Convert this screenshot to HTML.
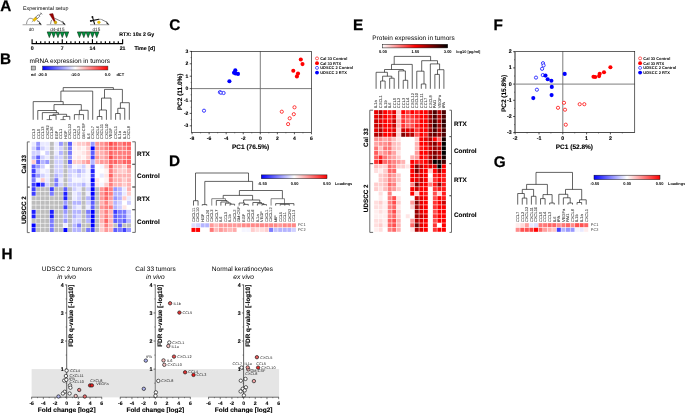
<!DOCTYPE html>
<html lang="en"><head><meta charset="utf-8"><title>Figure</title>
<style>html,body{margin:0;padding:0;background:#fff}body{width:685px;height:413px;overflow:hidden}svg{display:block}text{text-rendering:geometricPrecision;font-family:"Liberation Sans",Arial,sans-serif}</style>
</head><body>
<svg width="685" height="413" viewBox="0 0 685 413">
<defs>
<linearGradient id="gbwr" x1="0" x2="1" y1="0" y2="0"><stop offset="0" stop-color="#0000ff"/><stop offset="0.5" stop-color="#ffffff"/><stop offset="1" stop-color="#ff0000"/></linearGradient>
<linearGradient id="gwrk" x1="0" x2="1" y1="0" y2="0"><stop offset="0" stop-color="#ffffff"/><stop offset="0.5" stop-color="#ff0000"/><stop offset="1" stop-color="#000000"/></linearGradient>
</defs>
<rect width="685" height="413" fill="#fff"/>
<text x="0.30" y="10.70" font-size="15.3" font-weight="bold" stroke="#000" stroke-width="0.25">A</text>
<text x="-0.02" y="64.00" font-size="15.3" font-weight="bold" stroke="#000" stroke-width="0.25">B</text>
<text x="169.28" y="30.15" font-size="15.3" font-weight="bold" stroke="#000" stroke-width="0.25">C</text>
<text x="169.08" y="166.20" font-size="15.3" font-weight="bold" stroke="#000" stroke-width="0.25">D</text>
<text x="353.08" y="30.40" font-size="15.3" font-weight="bold" stroke="#000" stroke-width="0.25">E</text>
<text x="493.48" y="30.40" font-size="15.3" font-weight="bold" stroke="#000" stroke-width="0.25">F</text>
<text x="493.84" y="167.30" font-size="15.3" font-weight="bold" stroke="#000" stroke-width="0.25">G</text>
<text x="1.38" y="258.90" font-size="15.3" font-weight="bold" stroke="#000" stroke-width="0.25">H</text>
<g id="panelA">
<text x="23.00" y="10.42" font-size="5.3">Experimental setup</text>
<line x1="31.60" y1="43.60" x2="123.11" y2="43.60" stroke="#000" stroke-width="1.2" stroke-linecap="butt"/>
<line x1="32.10" y1="39.20" x2="32.10" y2="43.60" stroke="#000" stroke-width="1.15" stroke-linecap="butt"/>
<line x1="36.41" y1="41.20" x2="36.41" y2="43.60" stroke="#000" stroke-width="1.15" stroke-linecap="butt"/>
<line x1="40.72" y1="41.20" x2="40.72" y2="43.60" stroke="#000" stroke-width="1.15" stroke-linecap="butt"/>
<line x1="45.03" y1="41.20" x2="45.03" y2="43.60" stroke="#000" stroke-width="1.15" stroke-linecap="butt"/>
<line x1="49.34" y1="41.20" x2="49.34" y2="43.60" stroke="#000" stroke-width="1.15" stroke-linecap="butt"/>
<line x1="53.65" y1="41.20" x2="53.65" y2="43.60" stroke="#000" stroke-width="1.15" stroke-linecap="butt"/>
<line x1="57.96" y1="41.20" x2="57.96" y2="43.60" stroke="#000" stroke-width="1.15" stroke-linecap="butt"/>
<line x1="62.27" y1="39.20" x2="62.27" y2="43.60" stroke="#000" stroke-width="1.15" stroke-linecap="butt"/>
<line x1="66.58" y1="41.20" x2="66.58" y2="43.60" stroke="#000" stroke-width="1.15" stroke-linecap="butt"/>
<line x1="70.89" y1="41.20" x2="70.89" y2="43.60" stroke="#000" stroke-width="1.15" stroke-linecap="butt"/>
<line x1="75.20" y1="41.20" x2="75.20" y2="43.60" stroke="#000" stroke-width="1.15" stroke-linecap="butt"/>
<line x1="79.51" y1="41.20" x2="79.51" y2="43.60" stroke="#000" stroke-width="1.15" stroke-linecap="butt"/>
<line x1="83.82" y1="41.20" x2="83.82" y2="43.60" stroke="#000" stroke-width="1.15" stroke-linecap="butt"/>
<line x1="88.13" y1="41.20" x2="88.13" y2="43.60" stroke="#000" stroke-width="1.15" stroke-linecap="butt"/>
<line x1="92.44" y1="39.20" x2="92.44" y2="43.60" stroke="#000" stroke-width="1.15" stroke-linecap="butt"/>
<line x1="96.75" y1="41.20" x2="96.75" y2="43.60" stroke="#000" stroke-width="1.15" stroke-linecap="butt"/>
<line x1="101.06" y1="41.20" x2="101.06" y2="43.60" stroke="#000" stroke-width="1.15" stroke-linecap="butt"/>
<line x1="105.37" y1="41.20" x2="105.37" y2="43.60" stroke="#000" stroke-width="1.15" stroke-linecap="butt"/>
<line x1="109.68" y1="41.20" x2="109.68" y2="43.60" stroke="#000" stroke-width="1.15" stroke-linecap="butt"/>
<line x1="113.99" y1="41.20" x2="113.99" y2="43.60" stroke="#000" stroke-width="1.15" stroke-linecap="butt"/>
<line x1="118.30" y1="41.20" x2="118.30" y2="43.60" stroke="#000" stroke-width="1.15" stroke-linecap="butt"/>
<line x1="122.61" y1="39.20" x2="122.61" y2="43.60" stroke="#000" stroke-width="1.15" stroke-linecap="butt"/>
<text x="32.10" y="50.19" font-size="5.2" text-anchor="middle" font-weight="bold" stroke="#000" stroke-width="0.12">0</text>
<text x="62.27" y="50.19" font-size="5.2" text-anchor="middle" font-weight="bold" stroke="#000" stroke-width="0.12">7</text>
<text x="92.44" y="50.19" font-size="5.2" text-anchor="middle" font-weight="bold" stroke="#000" stroke-width="0.12">14</text>
<text x="122.61" y="50.19" font-size="5.2" text-anchor="middle" font-weight="bold" stroke="#000" stroke-width="0.12">21</text>
<text x="134.40" y="50.22" font-size="5.3" font-weight="bold" stroke="#000" stroke-width="0.12">Time [d]</text>
<text x="119.30" y="36.19" font-size="5.2" font-weight="bold" stroke="#000" stroke-width="0.12">RTX: 10x 2 Gy</text>
<polygon points="47.19,31.9 51.49,31.9 49.34,37.6" fill="#009640" stroke="#06260f" stroke-width="0.6" stroke-linejoin="miter"/>
<polygon points="51.50,31.9 55.80,31.9 53.65,37.6" fill="#009640" stroke="#06260f" stroke-width="0.6" stroke-linejoin="miter"/>
<polygon points="55.81,31.9 60.11,31.9 57.96,37.6" fill="#009640" stroke="#06260f" stroke-width="0.6" stroke-linejoin="miter"/>
<polygon points="60.12,31.9 64.42,31.9 62.27,37.6" fill="#009640" stroke="#06260f" stroke-width="0.6" stroke-linejoin="miter"/>
<polygon points="64.43,31.9 68.73,31.9 66.58,37.6" fill="#009640" stroke="#06260f" stroke-width="0.6" stroke-linejoin="miter"/>
<polygon points="77.36,31.9 81.66,31.9 79.51,37.6" fill="#009640" stroke="#06260f" stroke-width="0.6" stroke-linejoin="miter"/>
<polygon points="81.67,31.9 85.97,31.9 83.82,37.6" fill="#009640" stroke="#06260f" stroke-width="0.6" stroke-linejoin="miter"/>
<polygon points="85.98,31.9 90.28,31.9 88.13,37.6" fill="#009640" stroke="#06260f" stroke-width="0.6" stroke-linejoin="miter"/>
<polygon points="90.29,31.9 94.59,31.9 92.44,37.6" fill="#009640" stroke="#06260f" stroke-width="0.6" stroke-linejoin="miter"/>
<polygon points="94.60,31.9 98.90,31.9 96.75,37.6" fill="#009640" stroke="#06260f" stroke-width="0.6" stroke-linejoin="miter"/>
<line x1="22.60" y1="24.70" x2="41.80" y2="24.70" stroke="#b4b4b4" stroke-width="1.2" stroke-linecap="butt"/>
<path d="M26.5 24.1C26.7 22.4 27 21.2 27.5 20.3C28.3 18.9 29.3 18.3 30.2 18.3C31.2 18.3 32 18.5 32.8 18.8" fill="none" stroke="#4a4a4a" stroke-width="0.6"/>
<path d="M36.90 20.40Q39.80 21.50 40.90 24.40" fill="none" stroke="#3a3a3a" stroke-width="0.65"/>
<path d="M37.60 21.40l1.5 0.1l0.6 1.5" fill="none" stroke="#777" stroke-width="0.8"/>
<path d="M39.00 22.80L40.90 24.40" fill="none" stroke="#1a1a1a" stroke-width="1.1"/>
<g transform="translate(35.0 19.15) rotate(-42)"><line x1="-4.4" y1="0" x2="-2" y2="0" stroke="#555" stroke-width="0.45"/><rect x="-2.3" y="-1.2" width="4.4" height="2.4" fill="#f2c000" stroke="#8a7000" stroke-width="0.3"/><rect x="2" y="-1.05" width="3.5" height="2.1" fill="#fff" stroke="#2a2a2a" stroke-width="0.5"/><line x1="5.5" y1="0" x2="8.4" y2="0" stroke="#2a2a2a" stroke-width="0.6"/><line x1="8.4" y1="-1.1" x2="8.4" y2="1.1" stroke="#2a2a2a" stroke-width="0.7"/></g>
<text x="31.30" y="30.88" font-size="4.6" text-anchor="middle" fill="#111">d0</text>
<line x1="46.60" y1="24.70" x2="65.80" y2="24.70" stroke="#b4b4b4" stroke-width="1.2" stroke-linecap="butt"/>
<path d="M50.5 24.1C50.7 22.6 51.1 21.2 51.7 19.9" fill="none" stroke="#4a4a4a" stroke-width="0.6"/>
<path d="M54.70 18.30Q60.70 20.45 64.90 24.40" fill="none" stroke="#3a3a3a" stroke-width="0.65"/>
<path d="M61.60 21.40l1.5 0.1l0.6 1.5" fill="none" stroke="#777" stroke-width="0.8"/>
<path d="M63.00 22.80L64.90 24.40" fill="none" stroke="#1a1a1a" stroke-width="1.1"/>
<polygon points="49.4,14.1 52.9,13.5 55.3,21.4 54.3,22.0" fill="#960000" stroke="#5c0000" stroke-width="0.35" stroke-linejoin="round"/>
<circle cx="55.50" cy="22.50" r="1.4" fill="#d9ac00" stroke="#9a7a00" stroke-width="0.35"/>
<text x="57.30" y="30.88" font-size="4.6" text-anchor="middle" fill="#111">d4-d15</text>
<line x1="90.00" y1="24.70" x2="109.40" y2="24.70" stroke="#b4b4b4" stroke-width="1.2" stroke-linecap="butt"/>
<path d="M98.6 19.2C99.6 19.1 100.6 19.2 101.6 19.5" fill="none" stroke="#555" stroke-width="0.5"/>
<path d="M101.60 19.50Q105.95 21.05 108.50 24.40" fill="none" stroke="#3a3a3a" stroke-width="0.65"/>
<path d="M105.20 21.40l1.5 0.1l0.6 1.5" fill="none" stroke="#777" stroke-width="0.8"/>
<path d="M106.60 22.80L108.50 24.40" fill="none" stroke="#1a1a1a" stroke-width="1.1"/>
<path d="M92.5 17.2L94.5 23.9M91 20.9L98.8 19.3" fill="none" stroke="#111" stroke-width="1.15" stroke-linecap="round"/>
<circle cx="92.40" cy="17.00" r="0.95" fill="#111"/>
<circle cx="90.80" cy="20.90" r="0.95" fill="#111"/>
<circle cx="98.90" cy="22.30" r="1.4" fill="#f5c400" stroke="#c9a200" stroke-width="0.35"/>
<text x="96.40" y="30.68" font-size="4.6" text-anchor="middle" fill="#111">d15</text>
</g>
<g id="panelB">
<text x="29.50" y="62.64" font-size="6.5">mRNA expression in tumors</text>
<rect x="31.20" y="66.10" width="4.20" height="3.90" fill="#bdbdbd" stroke="#333" stroke-width="0.5"/>
<rect x="42.60" y="66.10" width="65.30" height="3.90" fill="url(#gbwr)" stroke="#333" stroke-width="0.5"/>
<text x="33.30" y="75.98" font-size="4.0" text-anchor="middle" font-weight="bold">nd</text>
<text x="42.30" y="75.98" font-size="4.0" text-anchor="middle" font-weight="bold">-20.0</text>
<text x="75.20" y="75.98" font-size="4.0" text-anchor="middle" font-weight="bold">-10.0</text>
<text x="107.60" y="75.98" font-size="4.0" text-anchor="middle" font-weight="bold">0.0</text>
<text x="120.30" y="75.98" font-size="4.0" text-anchor="middle" font-weight="bold">dCT</text>
<rect x="31.65" y="141.86" width="3.99" height="3.99" fill="#e9e9ff"/>
<rect x="36.20" y="141.86" width="3.99" height="3.99" fill="#9898ff"/>
<rect x="40.73" y="141.86" width="3.99" height="3.99" fill="#e9e9ff"/>
<rect x="45.27" y="141.86" width="3.99" height="3.99" fill="#e9e9ff"/>
<rect x="49.82" y="141.86" width="3.99" height="3.99" fill="#bdbdbd"/>
<rect x="54.35" y="141.86" width="3.99" height="3.99" fill="#e9e9ff"/>
<rect x="58.90" y="141.86" width="3.99" height="3.99" fill="#9898ff"/>
<rect x="63.44" y="141.86" width="3.99" height="3.99" fill="#bdbdbd"/>
<rect x="67.97" y="141.86" width="3.99" height="3.99" fill="#5d5dff"/>
<rect x="72.51" y="141.86" width="3.99" height="3.99" fill="#ffe5e5"/>
<rect x="77.05" y="141.86" width="3.99" height="3.99" fill="#ffcbcb"/>
<rect x="81.59" y="141.86" width="3.99" height="3.99" fill="#ffcbcb"/>
<rect x="86.13" y="141.86" width="3.99" height="3.99" fill="#ffb2b2"/>
<rect x="90.67" y="141.86" width="3.99" height="3.99" fill="#9898ff"/>
<rect x="95.22" y="141.86" width="3.99" height="3.99" fill="#ff9898"/>
<rect x="99.75" y="141.86" width="3.99" height="3.99" fill="#ff9898"/>
<rect x="104.29" y="141.86" width="3.99" height="3.99" fill="#ff7e7e"/>
<rect x="108.84" y="141.86" width="3.99" height="3.99" fill="#ff4b4b"/>
<rect x="113.38" y="141.86" width="3.99" height="3.99" fill="#ff6464"/>
<rect x="117.91" y="141.86" width="3.99" height="3.99" fill="#ff7e7e"/>
<rect x="122.45" y="141.86" width="3.99" height="3.99" fill="#ff6464"/>
<rect x="127.00" y="141.86" width="3.99" height="3.99" fill="#ff6464"/>
<rect x="31.65" y="146.39" width="3.99" height="3.99" fill="#d0d0ff"/>
<rect x="36.20" y="146.39" width="3.99" height="3.99" fill="#7b7bff"/>
<rect x="40.73" y="146.39" width="3.99" height="3.99" fill="#d0d0ff"/>
<rect x="45.27" y="146.39" width="3.99" height="3.99" fill="#e9e9ff"/>
<rect x="49.82" y="146.39" width="3.99" height="3.99" fill="#bdbdbd"/>
<rect x="54.35" y="146.39" width="3.99" height="3.99" fill="#e9e9ff"/>
<rect x="58.90" y="146.39" width="3.99" height="3.99" fill="#d0d0ff"/>
<rect x="63.44" y="146.39" width="3.99" height="3.99" fill="#bdbdbd"/>
<rect x="67.97" y="146.39" width="3.99" height="3.99" fill="#7b7bff"/>
<rect x="72.51" y="146.39" width="3.99" height="3.99" fill="#fff2f2"/>
<rect x="77.05" y="146.39" width="3.99" height="3.99" fill="#ffe5e5"/>
<rect x="81.59" y="146.39" width="3.99" height="3.99" fill="#fff2f2"/>
<rect x="86.13" y="146.39" width="3.99" height="3.99" fill="#ffcbcb"/>
<rect x="90.67" y="146.39" width="3.99" height="3.99" fill="#0000ff"/>
<rect x="95.22" y="146.39" width="3.99" height="3.99" fill="#ff9898"/>
<rect x="99.75" y="146.39" width="3.99" height="3.99" fill="#ff9898"/>
<rect x="104.29" y="146.39" width="3.99" height="3.99" fill="#ff7e7e"/>
<rect x="108.84" y="146.39" width="3.99" height="3.99" fill="#ff6464"/>
<rect x="113.38" y="146.39" width="3.99" height="3.99" fill="#ff6464"/>
<rect x="117.91" y="146.39" width="3.99" height="3.99" fill="#ff7e7e"/>
<rect x="122.45" y="146.39" width="3.99" height="3.99" fill="#ff7e7e"/>
<rect x="127.00" y="146.39" width="3.99" height="3.99" fill="#ff6464"/>
<rect x="31.65" y="150.93" width="3.99" height="3.99" fill="#d0d0ff"/>
<rect x="36.20" y="150.93" width="3.99" height="3.99" fill="#d0d0ff"/>
<rect x="45.27" y="150.93" width="3.99" height="3.99" fill="#d0d0ff"/>
<rect x="49.82" y="150.93" width="3.99" height="3.99" fill="#bdbdbd"/>
<rect x="54.35" y="150.93" width="3.99" height="3.99" fill="#e9e9ff"/>
<rect x="58.90" y="150.93" width="3.99" height="3.99" fill="#b4b4ff"/>
<rect x="63.44" y="150.93" width="3.99" height="3.99" fill="#bdbdbd"/>
<rect x="67.97" y="150.93" width="3.99" height="3.99" fill="#7b7bff"/>
<rect x="72.51" y="150.93" width="3.99" height="3.99" fill="#fff2f2"/>
<rect x="77.05" y="150.93" width="3.99" height="3.99" fill="#fff2f2"/>
<rect x="81.59" y="150.93" width="3.99" height="3.99" fill="#ffe5e5"/>
<rect x="86.13" y="150.93" width="3.99" height="3.99" fill="#ffcbcb"/>
<rect x="90.67" y="150.93" width="3.99" height="3.99" fill="#5d5dff"/>
<rect x="95.22" y="150.93" width="3.99" height="3.99" fill="#ffb2b2"/>
<rect x="99.75" y="150.93" width="3.99" height="3.99" fill="#ffb2b2"/>
<rect x="104.29" y="150.93" width="3.99" height="3.99" fill="#ff9898"/>
<rect x="108.84" y="150.93" width="3.99" height="3.99" fill="#ff6464"/>
<rect x="113.38" y="150.93" width="3.99" height="3.99" fill="#ff7e7e"/>
<rect x="117.91" y="150.93" width="3.99" height="3.99" fill="#ff7e7e"/>
<rect x="122.45" y="150.93" width="3.99" height="3.99" fill="#ff7e7e"/>
<rect x="127.00" y="150.93" width="3.99" height="3.99" fill="#ff7e7e"/>
<rect x="31.65" y="155.46" width="3.99" height="3.99" fill="#b4b4ff"/>
<rect x="36.20" y="155.46" width="3.99" height="3.99" fill="#5d5dff"/>
<rect x="40.73" y="155.46" width="3.99" height="3.99" fill="#d0d0ff"/>
<rect x="45.27" y="155.46" width="3.99" height="3.99" fill="#e9e9ff"/>
<rect x="49.82" y="155.46" width="3.99" height="3.99" fill="#bdbdbd"/>
<rect x="54.35" y="155.46" width="3.99" height="3.99" fill="#d0d0ff"/>
<rect x="58.90" y="155.46" width="3.99" height="3.99" fill="#d0d0ff"/>
<rect x="63.44" y="155.46" width="3.99" height="3.99" fill="#bdbdbd"/>
<rect x="67.97" y="155.46" width="3.99" height="3.99" fill="#9898ff"/>
<rect x="72.51" y="155.46" width="3.99" height="3.99" fill="#fff2f2"/>
<rect x="77.05" y="155.46" width="3.99" height="3.99" fill="#ffe5e5"/>
<rect x="81.59" y="155.46" width="3.99" height="3.99" fill="#fff2f2"/>
<rect x="86.13" y="155.46" width="3.99" height="3.99" fill="#ffcbcb"/>
<rect x="90.67" y="155.46" width="3.99" height="3.99" fill="#3f3fff"/>
<rect x="95.22" y="155.46" width="3.99" height="3.99" fill="#ff9898"/>
<rect x="99.75" y="155.46" width="3.99" height="3.99" fill="#ffb2b2"/>
<rect x="104.29" y="155.46" width="3.99" height="3.99" fill="#ff9898"/>
<rect x="108.84" y="155.46" width="3.99" height="3.99" fill="#ff4b4b"/>
<rect x="113.38" y="155.46" width="3.99" height="3.99" fill="#ff7e7e"/>
<rect x="117.91" y="155.46" width="3.99" height="3.99" fill="#ff7e7e"/>
<rect x="122.45" y="155.46" width="3.99" height="3.99" fill="#ff7e7e"/>
<rect x="127.00" y="155.46" width="3.99" height="3.99" fill="#ff6464"/>
<rect x="31.65" y="160.00" width="3.99" height="3.99" fill="#ffcbcb"/>
<rect x="36.20" y="160.00" width="3.99" height="3.99" fill="#5d5dff"/>
<rect x="40.73" y="160.00" width="3.99" height="3.99" fill="#b4b4ff"/>
<rect x="45.27" y="160.00" width="3.99" height="3.99" fill="#9898ff"/>
<rect x="49.82" y="160.00" width="3.99" height="3.99" fill="#bdbdbd"/>
<rect x="54.35" y="160.00" width="3.99" height="3.99" fill="#d0d0ff"/>
<rect x="58.90" y="160.00" width="3.99" height="3.99" fill="#d0d0ff"/>
<rect x="63.44" y="160.00" width="3.99" height="3.99" fill="#bdbdbd"/>
<rect x="67.97" y="160.00" width="3.99" height="3.99" fill="#5d5dff"/>
<rect x="72.51" y="160.00" width="3.99" height="3.99" fill="#ffcbcb"/>
<rect x="77.05" y="160.00" width="3.99" height="3.99" fill="#ffcbcb"/>
<rect x="81.59" y="160.00" width="3.99" height="3.99" fill="#ffb2b2"/>
<rect x="86.13" y="160.00" width="3.99" height="3.99" fill="#ff9898"/>
<rect x="90.67" y="160.00" width="3.99" height="3.99" fill="#b4b4ff"/>
<rect x="95.22" y="160.00" width="3.99" height="3.99" fill="#ffb2b2"/>
<rect x="99.75" y="160.00" width="3.99" height="3.99" fill="#ff9898"/>
<rect x="104.29" y="160.00" width="3.99" height="3.99" fill="#ff9898"/>
<rect x="108.84" y="160.00" width="3.99" height="3.99" fill="#ff6464"/>
<rect x="113.38" y="160.00" width="3.99" height="3.99" fill="#ff6464"/>
<rect x="117.91" y="160.00" width="3.99" height="3.99" fill="#ff7e7e"/>
<rect x="122.45" y="160.00" width="3.99" height="3.99" fill="#ff6464"/>
<rect x="127.00" y="160.00" width="3.99" height="3.99" fill="#ff6464"/>
<rect x="31.65" y="164.53" width="3.99" height="3.99" fill="#5d5dff"/>
<rect x="36.20" y="164.53" width="3.99" height="3.99" fill="#9898ff"/>
<rect x="40.73" y="164.53" width="3.99" height="3.99" fill="#d0d0ff"/>
<rect x="49.82" y="164.53" width="3.99" height="3.99" fill="#bdbdbd"/>
<rect x="54.35" y="164.53" width="3.99" height="3.99" fill="#d0d0ff"/>
<rect x="58.90" y="164.53" width="3.99" height="3.99" fill="#d0d0ff"/>
<rect x="63.44" y="164.53" width="3.99" height="3.99" fill="#bdbdbd"/>
<rect x="67.97" y="164.53" width="3.99" height="3.99" fill="#b4b4ff"/>
<rect x="72.51" y="164.53" width="3.99" height="3.99" fill="#f5f5ff"/>
<rect x="77.05" y="164.53" width="3.99" height="3.99" fill="#e9e9ff"/>
<rect x="81.59" y="164.53" width="3.99" height="3.99" fill="#d0d0ff"/>
<rect x="86.13" y="164.53" width="3.99" height="3.99" fill="#fff2f2"/>
<rect x="90.67" y="164.53" width="3.99" height="3.99" fill="#5d5dff"/>
<rect x="99.75" y="164.53" width="3.99" height="3.99" fill="#f5f5ff"/>
<rect x="104.29" y="164.53" width="3.99" height="3.99" fill="#ffcbcb"/>
<rect x="108.84" y="164.53" width="3.99" height="3.99" fill="#ff6464"/>
<rect x="113.38" y="164.53" width="3.99" height="3.99" fill="#ffb2b2"/>
<rect x="117.91" y="164.53" width="3.99" height="3.99" fill="#ffb2b2"/>
<rect x="122.45" y="164.53" width="3.99" height="3.99" fill="#ffcbcb"/>
<rect x="127.00" y="164.53" width="3.99" height="3.99" fill="#ff7e7e"/>
<rect x="31.65" y="169.07" width="3.99" height="3.99" fill="#3f3fff"/>
<rect x="36.20" y="169.07" width="3.99" height="3.99" fill="#d0d0ff"/>
<rect x="40.73" y="169.07" width="3.99" height="3.99" fill="#f5f5ff"/>
<rect x="45.27" y="169.07" width="3.99" height="3.99" fill="#e9e9ff"/>
<rect x="49.82" y="169.07" width="3.99" height="3.99" fill="#bdbdbd"/>
<rect x="54.35" y="169.07" width="3.99" height="3.99" fill="#d0d0ff"/>
<rect x="58.90" y="169.07" width="3.99" height="3.99" fill="#d0d0ff"/>
<rect x="63.44" y="169.07" width="3.99" height="3.99" fill="#bdbdbd"/>
<rect x="67.97" y="169.07" width="3.99" height="3.99" fill="#d0d0ff"/>
<rect x="72.51" y="169.07" width="3.99" height="3.99" fill="#d0d0ff"/>
<rect x="77.05" y="169.07" width="3.99" height="3.99" fill="#b4b4ff"/>
<rect x="81.59" y="169.07" width="3.99" height="3.99" fill="#d0d0ff"/>
<rect x="86.13" y="169.07" width="3.99" height="3.99" fill="#f5f5ff"/>
<rect x="90.67" y="169.07" width="3.99" height="3.99" fill="#2020ff"/>
<rect x="104.29" y="169.07" width="3.99" height="3.99" fill="#fff2f2"/>
<rect x="108.84" y="169.07" width="3.99" height="3.99" fill="#ff7e7e"/>
<rect x="113.38" y="169.07" width="3.99" height="3.99" fill="#ffb2b2"/>
<rect x="117.91" y="169.07" width="3.99" height="3.99" fill="#ffcbcb"/>
<rect x="122.45" y="169.07" width="3.99" height="3.99" fill="#ffcbcb"/>
<rect x="127.00" y="169.07" width="3.99" height="3.99" fill="#ffb2b2"/>
<rect x="31.65" y="173.60" width="3.99" height="3.99" fill="#3f3fff"/>
<rect x="36.20" y="173.60" width="3.99" height="3.99" fill="#9898ff"/>
<rect x="40.73" y="173.60" width="3.99" height="3.99" fill="#d0d0ff"/>
<rect x="45.27" y="173.60" width="3.99" height="3.99" fill="#e9e9ff"/>
<rect x="49.82" y="173.60" width="3.99" height="3.99" fill="#bdbdbd"/>
<rect x="54.35" y="173.60" width="3.99" height="3.99" fill="#b4b4ff"/>
<rect x="58.90" y="173.60" width="3.99" height="3.99" fill="#d0d0ff"/>
<rect x="63.44" y="173.60" width="3.99" height="3.99" fill="#bdbdbd"/>
<rect x="67.97" y="173.60" width="3.99" height="3.99" fill="#d0d0ff"/>
<rect x="72.51" y="173.60" width="3.99" height="3.99" fill="#e9e9ff"/>
<rect x="77.05" y="173.60" width="3.99" height="3.99" fill="#d0d0ff"/>
<rect x="81.59" y="173.60" width="3.99" height="3.99" fill="#e9e9ff"/>
<rect x="86.13" y="173.60" width="3.99" height="3.99" fill="#f5f5ff"/>
<rect x="90.67" y="173.60" width="3.99" height="3.99" fill="#3f3fff"/>
<rect x="99.75" y="173.60" width="3.99" height="3.99" fill="#e9e9ff"/>
<rect x="104.29" y="173.60" width="3.99" height="3.99" fill="#ffe5e5"/>
<rect x="108.84" y="173.60" width="3.99" height="3.99" fill="#ff6464"/>
<rect x="113.38" y="173.60" width="3.99" height="3.99" fill="#ffb2b2"/>
<rect x="117.91" y="173.60" width="3.99" height="3.99" fill="#ffb2b2"/>
<rect x="122.45" y="173.60" width="3.99" height="3.99" fill="#ffb2b2"/>
<rect x="127.00" y="173.60" width="3.99" height="3.99" fill="#ffb2b2"/>
<rect x="31.65" y="178.14" width="3.99" height="3.99" fill="#7b7bff"/>
<rect x="36.20" y="178.14" width="3.99" height="3.99" fill="#f5f5ff"/>
<rect x="40.73" y="178.14" width="3.99" height="3.99" fill="#ffcbcb"/>
<rect x="45.27" y="178.14" width="3.99" height="3.99" fill="#e9e9ff"/>
<rect x="49.82" y="178.14" width="3.99" height="3.99" fill="#bdbdbd"/>
<rect x="54.35" y="178.14" width="3.99" height="3.99" fill="#7b7bff"/>
<rect x="58.90" y="178.14" width="3.99" height="3.99" fill="#e9e9ff"/>
<rect x="63.44" y="178.14" width="3.99" height="3.99" fill="#bdbdbd"/>
<rect x="67.97" y="178.14" width="3.99" height="3.99" fill="#d0d0ff"/>
<rect x="72.51" y="178.14" width="3.99" height="3.99" fill="#f5f5ff"/>
<rect x="77.05" y="178.14" width="3.99" height="3.99" fill="#f5f5ff"/>
<rect x="81.59" y="178.14" width="3.99" height="3.99" fill="#e9e9ff"/>
<rect x="86.13" y="178.14" width="3.99" height="3.99" fill="#f5f5ff"/>
<rect x="90.67" y="178.14" width="3.99" height="3.99" fill="#0000ff"/>
<rect x="95.22" y="178.14" width="3.99" height="3.99" fill="#ffe5e5"/>
<rect x="104.29" y="178.14" width="3.99" height="3.99" fill="#fff2f2"/>
<rect x="108.84" y="178.14" width="3.99" height="3.99" fill="#ff7e7e"/>
<rect x="113.38" y="178.14" width="3.99" height="3.99" fill="#ffb2b2"/>
<rect x="117.91" y="178.14" width="3.99" height="3.99" fill="#ffb2b2"/>
<rect x="122.45" y="178.14" width="3.99" height="3.99" fill="#ffcbcb"/>
<rect x="127.00" y="178.14" width="3.99" height="3.99" fill="#ffb2b2"/>
<rect x="31.65" y="182.67" width="3.99" height="3.99" fill="#3f3fff"/>
<rect x="36.20" y="182.67" width="3.99" height="3.99" fill="#0000ff"/>
<rect x="40.73" y="182.67" width="3.99" height="3.99" fill="#3f3fff"/>
<rect x="45.27" y="182.67" width="3.99" height="3.99" fill="#d0d0ff"/>
<rect x="49.82" y="182.67" width="3.99" height="3.99" fill="#bdbdbd"/>
<rect x="54.35" y="182.67" width="3.99" height="3.99" fill="#7b7bff"/>
<rect x="58.90" y="182.67" width="3.99" height="3.99" fill="#d0d0ff"/>
<rect x="63.44" y="182.67" width="3.99" height="3.99" fill="#bdbdbd"/>
<rect x="67.97" y="182.67" width="3.99" height="3.99" fill="#d0d0ff"/>
<rect x="72.51" y="182.67" width="3.99" height="3.99" fill="#d0d0ff"/>
<rect x="77.05" y="182.67" width="3.99" height="3.99" fill="#d0d0ff"/>
<rect x="81.59" y="182.67" width="3.99" height="3.99" fill="#b4b4ff"/>
<rect x="86.13" y="182.67" width="3.99" height="3.99" fill="#e9e9ff"/>
<rect x="90.67" y="182.67" width="3.99" height="3.99" fill="#2020ff"/>
<rect x="95.22" y="182.67" width="3.99" height="3.99" fill="#ffe5e5"/>
<rect x="99.75" y="182.67" width="3.99" height="3.99" fill="#f5f5ff"/>
<rect x="104.29" y="182.67" width="3.99" height="3.99" fill="#ffcbcb"/>
<rect x="108.84" y="182.67" width="3.99" height="3.99" fill="#ff7e7e"/>
<rect x="113.38" y="182.67" width="3.99" height="3.99" fill="#ffb2b2"/>
<rect x="117.91" y="182.67" width="3.99" height="3.99" fill="#ffb2b2"/>
<rect x="122.45" y="182.67" width="3.99" height="3.99" fill="#ffcbcb"/>
<rect x="127.00" y="182.67" width="3.99" height="3.99" fill="#ffb2b2"/>
<rect x="31.65" y="187.21" width="3.99" height="3.99" fill="#3f3fff"/>
<rect x="36.20" y="187.21" width="3.99" height="3.99" fill="#bdbdbd"/>
<rect x="40.73" y="187.21" width="3.99" height="3.99" fill="#bdbdbd"/>
<rect x="45.27" y="187.21" width="3.99" height="3.99" fill="#bdbdbd"/>
<rect x="49.82" y="187.21" width="3.99" height="3.99" fill="#3f3fff"/>
<rect x="54.35" y="187.21" width="3.99" height="3.99" fill="#bdbdbd"/>
<rect x="58.90" y="187.21" width="3.99" height="3.99" fill="#bdbdbd"/>
<rect x="63.44" y="187.21" width="3.99" height="3.99" fill="#5d5dff"/>
<rect x="67.97" y="187.21" width="3.99" height="3.99" fill="#bdbdbd"/>
<rect x="72.51" y="187.21" width="3.99" height="3.99" fill="#d0d0ff"/>
<rect x="77.05" y="187.21" width="3.99" height="3.99" fill="#e9e9ff"/>
<rect x="81.59" y="187.21" width="3.99" height="3.99" fill="#bdbdbd"/>
<rect x="86.13" y="187.21" width="3.99" height="3.99" fill="#d0d0ff"/>
<rect x="90.67" y="187.21" width="3.99" height="3.99" fill="#0000ff"/>
<rect x="95.22" y="187.21" width="3.99" height="3.99" fill="#bdbdbd"/>
<rect x="99.75" y="187.21" width="3.99" height="3.99" fill="#ff9898"/>
<rect x="104.29" y="187.21" width="3.99" height="3.99" fill="#ff6464"/>
<rect x="108.84" y="187.21" width="3.99" height="3.99" fill="#ff7e7e"/>
<rect x="113.38" y="187.21" width="3.99" height="3.99" fill="#9898ff"/>
<rect x="117.91" y="187.21" width="3.99" height="3.99" fill="#b4b4ff"/>
<rect x="122.45" y="187.21" width="3.99" height="3.99" fill="#e9e9ff"/>
<rect x="127.00" y="187.21" width="3.99" height="3.99" fill="#ffb2b2"/>
<rect x="31.65" y="191.74" width="3.99" height="3.99" fill="#3f3fff"/>
<rect x="36.20" y="191.74" width="3.99" height="3.99" fill="#bdbdbd"/>
<rect x="40.73" y="191.74" width="3.99" height="3.99" fill="#bdbdbd"/>
<rect x="45.27" y="191.74" width="3.99" height="3.99" fill="#bdbdbd"/>
<rect x="49.82" y="191.74" width="3.99" height="3.99" fill="#7b7bff"/>
<rect x="54.35" y="191.74" width="3.99" height="3.99" fill="#bdbdbd"/>
<rect x="58.90" y="191.74" width="3.99" height="3.99" fill="#bdbdbd"/>
<rect x="63.44" y="191.74" width="3.99" height="3.99" fill="#2020ff"/>
<rect x="67.97" y="191.74" width="3.99" height="3.99" fill="#bdbdbd"/>
<rect x="72.51" y="191.74" width="3.99" height="3.99" fill="#e9e9ff"/>
<rect x="77.05" y="191.74" width="3.99" height="3.99" fill="#d0d0ff"/>
<rect x="81.59" y="191.74" width="3.99" height="3.99" fill="#bdbdbd"/>
<rect x="86.13" y="191.74" width="3.99" height="3.99" fill="#e9e9ff"/>
<rect x="90.67" y="191.74" width="3.99" height="3.99" fill="#0000ff"/>
<rect x="95.22" y="191.74" width="3.99" height="3.99" fill="#bdbdbd"/>
<rect x="99.75" y="191.74" width="3.99" height="3.99" fill="#ff9898"/>
<rect x="104.29" y="191.74" width="3.99" height="3.99" fill="#ff6464"/>
<rect x="108.84" y="191.74" width="3.99" height="3.99" fill="#ff7e7e"/>
<rect x="113.38" y="191.74" width="3.99" height="3.99" fill="#b4b4ff"/>
<rect x="117.91" y="191.74" width="3.99" height="3.99" fill="#b4b4ff"/>
<rect x="122.45" y="191.74" width="3.99" height="3.99" fill="#e9e9ff"/>
<rect x="127.00" y="191.74" width="3.99" height="3.99" fill="#ffcbcb"/>
<rect x="31.65" y="196.28" width="3.99" height="3.99" fill="#bdbdbd"/>
<rect x="36.20" y="196.28" width="3.99" height="3.99" fill="#bdbdbd"/>
<rect x="40.73" y="196.28" width="3.99" height="3.99" fill="#bdbdbd"/>
<rect x="45.27" y="196.28" width="3.99" height="3.99" fill="#bdbdbd"/>
<rect x="49.82" y="196.28" width="3.99" height="3.99" fill="#bdbdbd"/>
<rect x="54.35" y="196.28" width="3.99" height="3.99" fill="#bdbdbd"/>
<rect x="58.90" y="196.28" width="3.99" height="3.99" fill="#bdbdbd"/>
<rect x="63.44" y="196.28" width="3.99" height="3.99" fill="#2020ff"/>
<rect x="67.97" y="196.28" width="3.99" height="3.99" fill="#bdbdbd"/>
<rect x="72.51" y="196.28" width="3.99" height="3.99" fill="#e9e9ff"/>
<rect x="77.05" y="196.28" width="3.99" height="3.99" fill="#d0d0ff"/>
<rect x="81.59" y="196.28" width="3.99" height="3.99" fill="#bdbdbd"/>
<rect x="86.13" y="196.28" width="3.99" height="3.99" fill="#b4b4ff"/>
<rect x="90.67" y="196.28" width="3.99" height="3.99" fill="#2020ff"/>
<rect x="95.22" y="196.28" width="3.99" height="3.99" fill="#bdbdbd"/>
<rect x="99.75" y="196.28" width="3.99" height="3.99" fill="#ff9898"/>
<rect x="104.29" y="196.28" width="3.99" height="3.99" fill="#ff6464"/>
<rect x="108.84" y="196.28" width="3.99" height="3.99" fill="#ff9898"/>
<rect x="113.38" y="196.28" width="3.99" height="3.99" fill="#9898ff"/>
<rect x="117.91" y="196.28" width="3.99" height="3.99" fill="#b4b4ff"/>
<rect x="122.45" y="196.28" width="3.99" height="3.99" fill="#ffcbcb"/>
<rect x="127.00" y="196.28" width="3.99" height="3.99" fill="#e9e9ff"/>
<rect x="31.65" y="200.81" width="3.99" height="3.99" fill="#bdbdbd"/>
<rect x="36.20" y="200.81" width="3.99" height="3.99" fill="#bdbdbd"/>
<rect x="40.73" y="200.81" width="3.99" height="3.99" fill="#bdbdbd"/>
<rect x="45.27" y="200.81" width="3.99" height="3.99" fill="#bdbdbd"/>
<rect x="49.82" y="200.81" width="3.99" height="3.99" fill="#bdbdbd"/>
<rect x="54.35" y="200.81" width="3.99" height="3.99" fill="#bdbdbd"/>
<rect x="58.90" y="200.81" width="3.99" height="3.99" fill="#bdbdbd"/>
<rect x="63.44" y="200.81" width="3.99" height="3.99" fill="#9898ff"/>
<rect x="67.97" y="200.81" width="3.99" height="3.99" fill="#bdbdbd"/>
<rect x="72.51" y="200.81" width="3.99" height="3.99" fill="#b4b4ff"/>
<rect x="77.05" y="200.81" width="3.99" height="3.99" fill="#b4b4ff"/>
<rect x="81.59" y="200.81" width="3.99" height="3.99" fill="#bdbdbd"/>
<rect x="86.13" y="200.81" width="3.99" height="3.99" fill="#d0d0ff"/>
<rect x="90.67" y="200.81" width="3.99" height="3.99" fill="#5d5dff"/>
<rect x="95.22" y="200.81" width="3.99" height="3.99" fill="#bdbdbd"/>
<rect x="99.75" y="200.81" width="3.99" height="3.99" fill="#ffb2b2"/>
<rect x="104.29" y="200.81" width="3.99" height="3.99" fill="#ff7e7e"/>
<rect x="108.84" y="200.81" width="3.99" height="3.99" fill="#ffb2b2"/>
<rect x="113.38" y="200.81" width="3.99" height="3.99" fill="#b4b4ff"/>
<rect x="117.91" y="200.81" width="3.99" height="3.99" fill="#d0d0ff"/>
<rect x="127.00" y="200.81" width="3.99" height="3.99" fill="#d0d0ff"/>
<rect x="31.65" y="205.35" width="3.99" height="3.99" fill="#bdbdbd"/>
<rect x="36.20" y="205.35" width="3.99" height="3.99" fill="#bdbdbd"/>
<rect x="40.73" y="205.35" width="3.99" height="3.99" fill="#bdbdbd"/>
<rect x="45.27" y="205.35" width="3.99" height="3.99" fill="#bdbdbd"/>
<rect x="49.82" y="205.35" width="3.99" height="3.99" fill="#bdbdbd"/>
<rect x="54.35" y="205.35" width="3.99" height="3.99" fill="#bdbdbd"/>
<rect x="58.90" y="205.35" width="3.99" height="3.99" fill="#bdbdbd"/>
<rect x="63.44" y="205.35" width="3.99" height="3.99" fill="#3f3fff"/>
<rect x="67.97" y="205.35" width="3.99" height="3.99" fill="#bdbdbd"/>
<rect x="72.51" y="205.35" width="3.99" height="3.99" fill="#d0d0ff"/>
<rect x="77.05" y="205.35" width="3.99" height="3.99" fill="#e9e9ff"/>
<rect x="81.59" y="205.35" width="3.99" height="3.99" fill="#bdbdbd"/>
<rect x="86.13" y="205.35" width="3.99" height="3.99" fill="#e9e9ff"/>
<rect x="90.67" y="205.35" width="3.99" height="3.99" fill="#5d5dff"/>
<rect x="95.22" y="205.35" width="3.99" height="3.99" fill="#bdbdbd"/>
<rect x="99.75" y="205.35" width="3.99" height="3.99" fill="#ff9898"/>
<rect x="104.29" y="205.35" width="3.99" height="3.99" fill="#ff7e7e"/>
<rect x="108.84" y="205.35" width="3.99" height="3.99" fill="#ff7e7e"/>
<rect x="113.38" y="205.35" width="3.99" height="3.99" fill="#b4b4ff"/>
<rect x="117.91" y="205.35" width="3.99" height="3.99" fill="#d0d0ff"/>
<rect x="122.45" y="205.35" width="3.99" height="3.99" fill="#ffe5e5"/>
<rect x="31.65" y="209.88" width="3.99" height="3.99" fill="#2020ff"/>
<rect x="36.20" y="209.88" width="3.99" height="3.99" fill="#bdbdbd"/>
<rect x="40.73" y="209.88" width="3.99" height="3.99" fill="#bdbdbd"/>
<rect x="45.27" y="209.88" width="3.99" height="3.99" fill="#bdbdbd"/>
<rect x="49.82" y="209.88" width="3.99" height="3.99" fill="#2020ff"/>
<rect x="54.35" y="209.88" width="3.99" height="3.99" fill="#bdbdbd"/>
<rect x="58.90" y="209.88" width="3.99" height="3.99" fill="#bdbdbd"/>
<rect x="63.44" y="209.88" width="3.99" height="3.99" fill="#9898ff"/>
<rect x="67.97" y="209.88" width="3.99" height="3.99" fill="#bdbdbd"/>
<rect x="72.51" y="209.88" width="3.99" height="3.99" fill="#b4b4ff"/>
<rect x="77.05" y="209.88" width="3.99" height="3.99" fill="#b4b4ff"/>
<rect x="81.59" y="209.88" width="3.99" height="3.99" fill="#bdbdbd"/>
<rect x="86.13" y="209.88" width="3.99" height="3.99" fill="#7b7bff"/>
<rect x="90.67" y="209.88" width="3.99" height="3.99" fill="#0000ff"/>
<rect x="95.22" y="209.88" width="3.99" height="3.99" fill="#bdbdbd"/>
<rect x="99.75" y="209.88" width="3.99" height="3.99" fill="#ffb2b2"/>
<rect x="104.29" y="209.88" width="3.99" height="3.99" fill="#ff7e7e"/>
<rect x="108.84" y="209.88" width="3.99" height="3.99" fill="#ffb2b2"/>
<rect x="113.38" y="209.88" width="3.99" height="3.99" fill="#3f3fff"/>
<rect x="117.91" y="209.88" width="3.99" height="3.99" fill="#7b7bff"/>
<rect x="122.45" y="209.88" width="3.99" height="3.99" fill="#7b7bff"/>
<rect x="127.00" y="209.88" width="3.99" height="3.99" fill="#d0d0ff"/>
<rect x="31.65" y="214.42" width="3.99" height="3.99" fill="#2020ff"/>
<rect x="36.20" y="214.42" width="3.99" height="3.99" fill="#bdbdbd"/>
<rect x="40.73" y="214.42" width="3.99" height="3.99" fill="#bdbdbd"/>
<rect x="45.27" y="214.42" width="3.99" height="3.99" fill="#bdbdbd"/>
<rect x="49.82" y="214.42" width="3.99" height="3.99" fill="#2020ff"/>
<rect x="54.35" y="214.42" width="3.99" height="3.99" fill="#bdbdbd"/>
<rect x="58.90" y="214.42" width="3.99" height="3.99" fill="#bdbdbd"/>
<rect x="63.44" y="214.42" width="3.99" height="3.99" fill="#b4b4ff"/>
<rect x="67.97" y="214.42" width="3.99" height="3.99" fill="#bdbdbd"/>
<rect x="72.51" y="214.42" width="3.99" height="3.99" fill="#b4b4ff"/>
<rect x="77.05" y="214.42" width="3.99" height="3.99" fill="#d0d0ff"/>
<rect x="81.59" y="214.42" width="3.99" height="3.99" fill="#bdbdbd"/>
<rect x="86.13" y="214.42" width="3.99" height="3.99" fill="#9898ff"/>
<rect x="90.67" y="214.42" width="3.99" height="3.99" fill="#0000ff"/>
<rect x="95.22" y="214.42" width="3.99" height="3.99" fill="#bdbdbd"/>
<rect x="99.75" y="214.42" width="3.99" height="3.99" fill="#ffb2b2"/>
<rect x="104.29" y="214.42" width="3.99" height="3.99" fill="#ff7e7e"/>
<rect x="108.84" y="214.42" width="3.99" height="3.99" fill="#ffb2b2"/>
<rect x="113.38" y="214.42" width="3.99" height="3.99" fill="#5d5dff"/>
<rect x="117.91" y="214.42" width="3.99" height="3.99" fill="#7b7bff"/>
<rect x="122.45" y="214.42" width="3.99" height="3.99" fill="#7b7bff"/>
<rect x="127.00" y="214.42" width="3.99" height="3.99" fill="#d0d0ff"/>
<rect x="31.65" y="218.95" width="3.99" height="3.99" fill="#bdbdbd"/>
<rect x="36.20" y="218.95" width="3.99" height="3.99" fill="#bdbdbd"/>
<rect x="40.73" y="218.95" width="3.99" height="3.99" fill="#bdbdbd"/>
<rect x="45.27" y="218.95" width="3.99" height="3.99" fill="#bdbdbd"/>
<rect x="49.82" y="218.95" width="3.99" height="3.99" fill="#7b7bff"/>
<rect x="54.35" y="218.95" width="3.99" height="3.99" fill="#bdbdbd"/>
<rect x="58.90" y="218.95" width="3.99" height="3.99" fill="#bdbdbd"/>
<rect x="63.44" y="218.95" width="3.99" height="3.99" fill="#9898ff"/>
<rect x="67.97" y="218.95" width="3.99" height="3.99" fill="#bdbdbd"/>
<rect x="72.51" y="218.95" width="3.99" height="3.99" fill="#d0d0ff"/>
<rect x="77.05" y="218.95" width="3.99" height="3.99" fill="#d0d0ff"/>
<rect x="81.59" y="218.95" width="3.99" height="3.99" fill="#bdbdbd"/>
<rect x="86.13" y="218.95" width="3.99" height="3.99" fill="#b4b4ff"/>
<rect x="90.67" y="218.95" width="3.99" height="3.99" fill="#0000ff"/>
<rect x="95.22" y="218.95" width="3.99" height="3.99" fill="#bdbdbd"/>
<rect x="99.75" y="218.95" width="3.99" height="3.99" fill="#ffb2b2"/>
<rect x="104.29" y="218.95" width="3.99" height="3.99" fill="#ff6464"/>
<rect x="108.84" y="218.95" width="3.99" height="3.99" fill="#ffb2b2"/>
<rect x="113.38" y="218.95" width="3.99" height="3.99" fill="#5d5dff"/>
<rect x="117.91" y="218.95" width="3.99" height="3.99" fill="#7b7bff"/>
<rect x="122.45" y="218.95" width="3.99" height="3.99" fill="#5d5dff"/>
<rect x="127.00" y="218.95" width="3.99" height="3.99" fill="#b4b4ff"/>
<rect x="31.65" y="223.49" width="3.99" height="3.99" fill="#0000ff"/>
<rect x="36.20" y="223.49" width="3.99" height="3.99" fill="#bdbdbd"/>
<rect x="40.73" y="223.49" width="3.99" height="3.99" fill="#bdbdbd"/>
<rect x="45.27" y="223.49" width="3.99" height="3.99" fill="#bdbdbd"/>
<rect x="49.82" y="223.49" width="3.99" height="3.99" fill="#7b7bff"/>
<rect x="54.35" y="223.49" width="3.99" height="3.99" fill="#bdbdbd"/>
<rect x="58.90" y="223.49" width="3.99" height="3.99" fill="#bdbdbd"/>
<rect x="63.44" y="223.49" width="3.99" height="3.99" fill="#e9e9ff"/>
<rect x="67.97" y="223.49" width="3.99" height="3.99" fill="#bdbdbd"/>
<rect x="72.51" y="223.49" width="3.99" height="3.99" fill="#b4b4ff"/>
<rect x="77.05" y="223.49" width="3.99" height="3.99" fill="#7b7bff"/>
<rect x="81.59" y="223.49" width="3.99" height="3.99" fill="#bdbdbd"/>
<rect x="86.13" y="223.49" width="3.99" height="3.99" fill="#bdbdbd"/>
<rect x="90.67" y="223.49" width="3.99" height="3.99" fill="#0000ff"/>
<rect x="95.22" y="223.49" width="3.99" height="3.99" fill="#bdbdbd"/>
<rect x="99.75" y="223.49" width="3.99" height="3.99" fill="#ffcbcb"/>
<rect x="104.29" y="223.49" width="3.99" height="3.99" fill="#ff7e7e"/>
<rect x="108.84" y="223.49" width="3.99" height="3.99" fill="#ffb2b2"/>
<rect x="113.38" y="223.49" width="3.99" height="3.99" fill="#bdbdbd"/>
<rect x="117.91" y="223.49" width="3.99" height="3.99" fill="#5d5dff"/>
<rect x="122.45" y="223.49" width="3.99" height="3.99" fill="#bdbdbd"/>
<rect x="127.00" y="223.49" width="3.99" height="3.99" fill="#bdbdbd"/>
<rect x="31.65" y="228.02" width="3.99" height="3.99" fill="#2020ff"/>
<rect x="36.20" y="228.02" width="3.99" height="3.99" fill="#bdbdbd"/>
<rect x="40.73" y="228.02" width="3.99" height="3.99" fill="#bdbdbd"/>
<rect x="45.27" y="228.02" width="3.99" height="3.99" fill="#bdbdbd"/>
<rect x="49.82" y="228.02" width="3.99" height="3.99" fill="#7b7bff"/>
<rect x="54.35" y="228.02" width="3.99" height="3.99" fill="#bdbdbd"/>
<rect x="58.90" y="228.02" width="3.99" height="3.99" fill="#bdbdbd"/>
<rect x="63.44" y="228.02" width="3.99" height="3.99" fill="#0000ff"/>
<rect x="67.97" y="228.02" width="3.99" height="3.99" fill="#bdbdbd"/>
<rect x="72.51" y="228.02" width="3.99" height="3.99" fill="#b4b4ff"/>
<rect x="77.05" y="228.02" width="3.99" height="3.99" fill="#b4b4ff"/>
<rect x="81.59" y="228.02" width="3.99" height="3.99" fill="#bdbdbd"/>
<rect x="86.13" y="228.02" width="3.99" height="3.99" fill="#7b7bff"/>
<rect x="90.67" y="228.02" width="3.99" height="3.99" fill="#3f3fff"/>
<rect x="95.22" y="228.02" width="3.99" height="3.99" fill="#bdbdbd"/>
<rect x="99.75" y="228.02" width="3.99" height="3.99" fill="#ffcbcb"/>
<rect x="104.29" y="228.02" width="3.99" height="3.99" fill="#ff9898"/>
<rect x="108.84" y="228.02" width="3.99" height="3.99" fill="#ffb2b2"/>
<rect x="113.38" y="228.02" width="3.99" height="3.99" fill="#5d5dff"/>
<rect x="117.91" y="228.02" width="3.99" height="3.99" fill="#7b7bff"/>
<rect x="122.45" y="228.02" width="3.99" height="3.99" fill="#3f3fff"/>
<rect x="127.00" y="228.02" width="3.99" height="3.99" fill="#9898ff"/>
<text transform="translate(33.65 139.00) rotate(-90)" x="0" y="1.39" font-size="4.05" fill="#3a3a3a" stroke="#3a3a3a" stroke-width="0.07">CCL3</text>
<text transform="translate(38.19 139.00) rotate(-90)" x="0" y="1.39" font-size="4.05" fill="#3a3a3a" stroke="#3a3a3a" stroke-width="0.07">CCL5</text>
<text transform="translate(42.73 139.00) rotate(-90)" x="0" y="1.39" font-size="4.05" fill="#3a3a3a" stroke="#3a3a3a" stroke-width="0.07">CCL13</text>
<text transform="translate(47.27 139.00) rotate(-90)" x="0" y="1.39" font-size="4.05" fill="#3a3a3a" stroke="#3a3a3a" stroke-width="0.07">CXCR2</text>
<text transform="translate(51.81 139.00) rotate(-90)" x="0" y="1.39" font-size="4.05" fill="#3a3a3a" stroke="#3a3a3a" stroke-width="0.07">CCL26</text>
<text transform="translate(56.35 139.00) rotate(-90)" x="0" y="1.39" font-size="4.05" fill="#3a3a3a" stroke="#3a3a3a" stroke-width="0.07">EGF</text>
<text transform="translate(60.89 139.00) rotate(-90)" x="0" y="1.39" font-size="4.05" fill="#3a3a3a" stroke="#3a3a3a" stroke-width="0.07">CCL1</text>
<text transform="translate(65.43 139.00) rotate(-90)" x="0" y="1.39" font-size="4.05" fill="#3a3a3a" stroke="#3a3a3a" stroke-width="0.07">HGF</text>
<text transform="translate(69.97 139.00) rotate(-90)" x="0" y="1.39" font-size="4.05" fill="#3a3a3a" stroke="#3a3a3a" stroke-width="0.07">CXCL12</text>
<text transform="translate(74.51 139.00) rotate(-90)" x="0" y="1.39" font-size="4.05" fill="#3a3a3a" stroke="#3a3a3a" stroke-width="0.07">CCL2</text>
<text transform="translate(79.05 139.00) rotate(-90)" x="0" y="1.39" font-size="4.05" fill="#3a3a3a" stroke="#3a3a3a" stroke-width="0.07">CXCL3</text>
<text transform="translate(83.59 139.00) rotate(-90)" x="0" y="1.39" font-size="4.05" fill="#3a3a3a" stroke="#3a3a3a" stroke-width="0.07">GM-CSF</text>
<text transform="translate(88.13 139.00) rotate(-90)" x="0" y="1.39" font-size="4.05" fill="#3a3a3a" stroke="#3a3a3a" stroke-width="0.07">IL6</text>
<text transform="translate(92.67 139.00) rotate(-90)" x="0" y="1.39" font-size="4.05" fill="#3a3a3a" stroke="#3a3a3a" stroke-width="0.07">CXCL7</text>
<text transform="translate(97.21 139.00) rotate(-90)" x="0" y="1.39" font-size="4.05" fill="#3a3a3a" stroke="#3a3a3a" stroke-width="0.07">CXCL6</text>
<text transform="translate(101.75 139.00) rotate(-90)" x="0" y="1.39" font-size="4.05" fill="#3a3a3a" stroke="#3a3a3a" stroke-width="0.07">CXCL11</text>
<text transform="translate(106.29 139.00) rotate(-90)" x="0" y="1.39" font-size="4.05" fill="#3a3a3a" stroke="#3a3a3a" stroke-width="0.07">CXCL10</text>
<text transform="translate(110.83 139.00) rotate(-90)" x="0" y="1.39" font-size="4.05" fill="#3a3a3a" stroke="#3a3a3a" stroke-width="0.07">VEGF</text>
<text transform="translate(115.37 139.00) rotate(-90)" x="0" y="1.39" font-size="4.05" fill="#3a3a3a" stroke="#3a3a3a" stroke-width="0.07">CXCL1</text>
<text transform="translate(119.91 139.00) rotate(-90)" x="0" y="1.39" font-size="4.05" fill="#3a3a3a" stroke="#3a3a3a" stroke-width="0.07">IL1a</text>
<text transform="translate(124.45 139.00) rotate(-90)" x="0" y="1.39" font-size="4.05" fill="#3a3a3a" stroke="#3a3a3a" stroke-width="0.07">IL1b</text>
<text transform="translate(128.99 139.00) rotate(-90)" x="0" y="1.39" font-size="4.05" fill="#3a3a3a" stroke="#3a3a3a" stroke-width="0.07">CXCL8</text>
<path d="M63.20 91.10V87.60H113.40V89.40" fill="none" stroke="#222" stroke-width="0.7"/>
<path d="M60.90 101.60V91.10H92.70V119.80" fill="none" stroke="#222" stroke-width="0.7"/>
<path d="M33.20 119.80V101.60H63.20V104.60" fill="none" stroke="#222" stroke-width="0.7"/>
<path d="M54.00 110.50V104.60H81.30V110.30" fill="none" stroke="#222" stroke-width="0.7"/>
<path d="M79.40 114.60V110.30H88.12V119.80" fill="none" stroke="#222" stroke-width="0.7"/>
<path d="M74.39 119.80V114.60H83.55V119.80" fill="none" stroke="#222" stroke-width="0.7"/>
<line x1="78.97" y1="114.60" x2="78.97" y2="119.80" stroke="#777" stroke-width="0.7" stroke-linecap="butt"/>
<path d="M37.78 119.80V110.50H56.40V112.60" fill="none" stroke="#222" stroke-width="0.7"/>
<path d="M42.35 119.80V112.60H58.40V114.30" fill="none" stroke="#222" stroke-width="0.7"/>
<path d="M53.00 115.40V114.30H66.60V116.40" fill="none" stroke="#222" stroke-width="0.7"/>
<path d="M49.50 119.80V115.40H56.09V119.80" fill="none" stroke="#222" stroke-width="0.7"/>
<line x1="46.63" y1="119.60" x2="51.81" y2="119.60" stroke="#444" stroke-width="0.7" stroke-linecap="butt"/>
<path d="M63.20 119.80V116.40H69.82V119.80" fill="none" stroke="#222" stroke-width="0.7"/>
<line x1="60.36" y1="119.60" x2="65.54" y2="119.60" stroke="#444" stroke-width="0.7" stroke-linecap="butt"/>
<path d="M104.50 98.10V89.40H122.40V102.70" fill="none" stroke="#222" stroke-width="0.7"/>
<path d="M101.50 110.00V98.10H111.01V119.80" fill="none" stroke="#222" stroke-width="0.7"/>
<path d="M99.40 116.50V110.00H106.43V119.80" fill="none" stroke="#222" stroke-width="0.7"/>
<path d="M97.28 119.80V116.50H101.86V119.80" fill="none" stroke="#222" stroke-width="0.7"/>
<path d="M120.40 108.30V102.70H129.32V119.80" fill="none" stroke="#222" stroke-width="0.7"/>
<path d="M117.80 113.50V108.30H124.74V119.80" fill="none" stroke="#222" stroke-width="0.7"/>
<path d="M115.59 119.80V113.50H120.16V119.80" fill="none" stroke="#222" stroke-width="0.7"/>
<path d="M29.70 141.90H27.30V187.10H29.70" fill="none" stroke="#5a5a5a" stroke-width="0.9"/>
<path d="M29.70 187.10H27.30V232.60H29.70" fill="none" stroke="#5a5a5a" stroke-width="0.9"/>
<path d="M132.30 141.80H135.30V164.30H132.30" fill="none" stroke="#5a5a5a" stroke-width="0.9"/>
<path d="M132.30 164.30H135.30V187.00H132.30" fill="none" stroke="#5a5a5a" stroke-width="0.9"/>
<path d="M132.30 187.00H135.30V209.70H132.30" fill="none" stroke="#5a5a5a" stroke-width="0.9"/>
<path d="M132.30 209.70H135.30V232.40H132.30" fill="none" stroke="#5a5a5a" stroke-width="0.9"/>
<text transform="translate(23.70 164.30) rotate(-90)" x="0" y="2.17" font-size="6.3" text-anchor="middle" font-weight="bold" stroke="#000" stroke-width="0.12">Cal 33</text>
<text transform="translate(23.70 210.00) rotate(-90)" x="0" y="2.17" font-size="6.3" text-anchor="middle" font-weight="bold" stroke="#000" stroke-width="0.12">UDSCC 2</text>
<text x="137.10" y="155.68" font-size="6.35" font-weight="bold" stroke="#000" stroke-width="0.12">RTX</text>
<text x="137.10" y="177.98" font-size="6.35" font-weight="bold" stroke="#000" stroke-width="0.12">Control</text>
<text x="137.10" y="201.38" font-size="6.35" font-weight="bold" stroke="#000" stroke-width="0.12">RTX</text>
<text x="137.10" y="223.68" font-size="6.35" font-weight="bold" stroke="#000" stroke-width="0.12">Control</text>
</g>
<g id="panelC">
<line x1="260.30" y1="51.40" x2="260.30" y2="132.40" stroke="#6e6e6e" stroke-width="0.9" stroke-linecap="butt"/>
<line x1="191.60" y1="88.60" x2="311.60" y2="88.60" stroke="#6e6e6e" stroke-width="0.9" stroke-linecap="butt"/>
<rect x="191.60" y="51.40" width="120.00" height="81.00" fill="none" stroke="#222" stroke-width="0.7"/>
<line x1="192.06" y1="132.40" x2="192.06" y2="134.30" stroke="#111" stroke-width="0.7" stroke-linecap="butt"/>
<text x="192.06" y="139.94" font-size="5.05" text-anchor="middle" font-weight="bold" stroke="#000" stroke-width="0.12">-8</text>
<line x1="209.12" y1="132.40" x2="209.12" y2="134.30" stroke="#111" stroke-width="0.7" stroke-linecap="butt"/>
<text x="209.12" y="139.94" font-size="5.05" text-anchor="middle" font-weight="bold" stroke="#000" stroke-width="0.12">-6</text>
<line x1="226.18" y1="132.40" x2="226.18" y2="134.30" stroke="#111" stroke-width="0.7" stroke-linecap="butt"/>
<text x="226.18" y="139.94" font-size="5.05" text-anchor="middle" font-weight="bold" stroke="#000" stroke-width="0.12">-4</text>
<line x1="243.24" y1="132.40" x2="243.24" y2="134.30" stroke="#111" stroke-width="0.7" stroke-linecap="butt"/>
<text x="243.24" y="139.94" font-size="5.05" text-anchor="middle" font-weight="bold" stroke="#000" stroke-width="0.12">-2</text>
<line x1="260.30" y1="132.40" x2="260.30" y2="134.30" stroke="#111" stroke-width="0.7" stroke-linecap="butt"/>
<text x="260.30" y="139.94" font-size="5.05" text-anchor="middle" font-weight="bold" stroke="#000" stroke-width="0.12">0</text>
<line x1="277.36" y1="132.40" x2="277.36" y2="134.30" stroke="#111" stroke-width="0.7" stroke-linecap="butt"/>
<text x="277.36" y="139.94" font-size="5.05" text-anchor="middle" font-weight="bold" stroke="#000" stroke-width="0.12">2</text>
<line x1="294.42" y1="132.40" x2="294.42" y2="134.30" stroke="#111" stroke-width="0.7" stroke-linecap="butt"/>
<text x="294.42" y="139.94" font-size="5.05" text-anchor="middle" font-weight="bold" stroke="#000" stroke-width="0.12">4</text>
<line x1="311.48" y1="132.40" x2="311.48" y2="134.30" stroke="#111" stroke-width="0.7" stroke-linecap="butt"/>
<text x="311.48" y="139.94" font-size="5.05" text-anchor="middle" font-weight="bold" stroke="#000" stroke-width="0.12">6</text>
<line x1="200.59" y1="132.40" x2="200.59" y2="133.40" stroke="#222" stroke-width="0.5" stroke-linecap="butt"/>
<line x1="217.65" y1="132.40" x2="217.65" y2="133.40" stroke="#222" stroke-width="0.5" stroke-linecap="butt"/>
<line x1="234.71" y1="132.40" x2="234.71" y2="133.40" stroke="#222" stroke-width="0.5" stroke-linecap="butt"/>
<line x1="251.77" y1="132.40" x2="251.77" y2="133.40" stroke="#222" stroke-width="0.5" stroke-linecap="butt"/>
<line x1="268.83" y1="132.40" x2="268.83" y2="133.40" stroke="#222" stroke-width="0.5" stroke-linecap="butt"/>
<line x1="285.89" y1="132.40" x2="285.89" y2="133.40" stroke="#222" stroke-width="0.5" stroke-linecap="butt"/>
<line x1="302.95" y1="132.40" x2="302.95" y2="133.40" stroke="#222" stroke-width="0.5" stroke-linecap="butt"/>
<line x1="189.70" y1="51.40" x2="191.60" y2="51.40" stroke="#111" stroke-width="0.7" stroke-linecap="butt"/>
<text x="188.40" y="52.74" font-size="5.05" text-anchor="end" font-weight="bold" stroke="#000" stroke-width="0.12">3</text>
<line x1="189.70" y1="63.80" x2="191.60" y2="63.80" stroke="#111" stroke-width="0.7" stroke-linecap="butt"/>
<text x="188.40" y="65.14" font-size="5.05" text-anchor="end" font-weight="bold" stroke="#000" stroke-width="0.12">2</text>
<line x1="189.70" y1="76.20" x2="191.60" y2="76.20" stroke="#111" stroke-width="0.7" stroke-linecap="butt"/>
<text x="188.40" y="77.54" font-size="5.05" text-anchor="end" font-weight="bold" stroke="#000" stroke-width="0.12">1</text>
<line x1="189.70" y1="88.60" x2="191.60" y2="88.60" stroke="#111" stroke-width="0.7" stroke-linecap="butt"/>
<text x="188.40" y="89.94" font-size="5.05" text-anchor="end" font-weight="bold" stroke="#000" stroke-width="0.12">0</text>
<line x1="189.70" y1="101.00" x2="191.60" y2="101.00" stroke="#111" stroke-width="0.7" stroke-linecap="butt"/>
<text x="188.40" y="102.34" font-size="5.05" text-anchor="end" font-weight="bold" stroke="#000" stroke-width="0.12">-1</text>
<line x1="189.70" y1="113.40" x2="191.60" y2="113.40" stroke="#111" stroke-width="0.7" stroke-linecap="butt"/>
<text x="188.40" y="114.74" font-size="5.05" text-anchor="end" font-weight="bold" stroke="#000" stroke-width="0.12">-2</text>
<line x1="189.70" y1="125.80" x2="191.60" y2="125.80" stroke="#111" stroke-width="0.7" stroke-linecap="butt"/>
<text x="188.40" y="127.14" font-size="5.05" text-anchor="end" font-weight="bold" stroke="#000" stroke-width="0.12">-3</text>
<line x1="190.60" y1="57.60" x2="191.60" y2="57.60" stroke="#222" stroke-width="0.5" stroke-linecap="butt"/>
<line x1="190.60" y1="70.00" x2="191.60" y2="70.00" stroke="#222" stroke-width="0.5" stroke-linecap="butt"/>
<line x1="190.60" y1="82.40" x2="191.60" y2="82.40" stroke="#222" stroke-width="0.5" stroke-linecap="butt"/>
<line x1="190.60" y1="94.80" x2="191.60" y2="94.80" stroke="#222" stroke-width="0.5" stroke-linecap="butt"/>
<line x1="190.60" y1="107.20" x2="191.60" y2="107.20" stroke="#222" stroke-width="0.5" stroke-linecap="butt"/>
<line x1="190.60" y1="119.60" x2="191.60" y2="119.60" stroke="#222" stroke-width="0.5" stroke-linecap="butt"/>
<text x="250.60" y="148.74" font-size="6.5" text-anchor="middle" font-weight="bold" stroke="#000" stroke-width="0.12">PC1 (76.5%)</text>
<text transform="translate(179.60 91.90) rotate(-90)" x="0" y="2.24" font-size="6.5" text-anchor="middle" font-weight="bold" stroke="#000" stroke-width="0.12">PC2 (11.0%)</text>
<circle cx="300.80" cy="59.50" r="2.05" fill="#ff0000"/>
<circle cx="302.50" cy="64.10" r="2.05" fill="#ff0000"/>
<circle cx="293.30" cy="70.70" r="2.05" fill="#ff0000"/>
<circle cx="298.00" cy="73.60" r="2.05" fill="#ff0000"/>
<circle cx="296.90" cy="76.40" r="2.05" fill="#ff0000"/>
<circle cx="235.30" cy="70.20" r="2.05" fill="#0000ff"/>
<circle cx="234.00" cy="72.70" r="2.05" fill="#0000ff"/>
<circle cx="238.00" cy="73.90" r="2.05" fill="#0000ff"/>
<circle cx="235.50" cy="73.40" r="2.05" fill="#0000ff"/>
<circle cx="229.40" cy="81.20" r="2.05" fill="#0000ff"/>
<circle cx="219.90" cy="92.20" r="1.6" fill="#fff" stroke="#1a1aff" stroke-width="0.85"/>
<circle cx="221.00" cy="92.70" r="1.6" fill="#fff" stroke="#1a1aff" stroke-width="0.85"/>
<circle cx="223.60" cy="93.00" r="1.6" fill="#fff" stroke="#1a1aff" stroke-width="0.85"/>
<circle cx="204.00" cy="110.70" r="1.6" fill="#fff" stroke="#1a1aff" stroke-width="0.85"/>
<circle cx="294.50" cy="107.30" r="1.6" fill="#fff" stroke="#ff1a1a" stroke-width="0.85"/>
<circle cx="281.80" cy="111.70" r="1.6" fill="#fff" stroke="#ff1a1a" stroke-width="0.85"/>
<circle cx="293.80" cy="114.20" r="1.6" fill="#fff" stroke="#ff1a1a" stroke-width="0.85"/>
<circle cx="289.70" cy="118.30" r="1.6" fill="#fff" stroke="#ff1a1a" stroke-width="0.85"/>
<circle cx="288.10" cy="124.10" r="1.6" fill="#fff" stroke="#ff1a1a" stroke-width="0.85"/>
<circle cx="317.00" cy="58.40" r="1.5" fill="#fff" stroke="#ff1a1a" stroke-width="0.7"/>
<text x="320.20" y="59.78" font-size="4.0" font-weight="bold">Cal 33 Control</text>
<circle cx="317.00" cy="63.13" r="1.95" fill="#ff0000"/>
<text x="320.20" y="64.51" font-size="4.0" font-weight="bold">Cal 33 RTX</text>
<circle cx="317.00" cy="67.86" r="1.5" fill="#fff" stroke="#1a1aff" stroke-width="0.7"/>
<text x="320.20" y="69.24" font-size="4.0" font-weight="bold">UDSCC 2 Control</text>
<circle cx="317.00" cy="72.59" r="1.95" fill="#0000ff"/>
<text x="320.20" y="73.97" font-size="4.0" font-weight="bold">UDSCC 2 RTX</text>
</g>
<g id="panelF">
<line x1="562.80" y1="51.50" x2="562.80" y2="132.50" stroke="#6e6e6e" stroke-width="0.9" stroke-linecap="butt"/>
<line x1="515.00" y1="84.10" x2="634.70" y2="84.10" stroke="#6e6e6e" stroke-width="0.9" stroke-linecap="butt"/>
<rect x="515.00" y="51.50" width="119.70" height="81.00" fill="none" stroke="#222" stroke-width="0.7"/>
<line x1="515.00" y1="51.50" x2="515.00" y2="132.50" stroke="#8a8a8a" stroke-width="1.5" stroke-linecap="butt"/>
<line x1="514.30" y1="132.50" x2="634.70" y2="132.50" stroke="#4a4a4a" stroke-width="0.9" stroke-linecap="butt"/>
<line x1="515.20" y1="132.50" x2="515.20" y2="134.40" stroke="#111" stroke-width="0.7" stroke-linecap="butt"/>
<text x="515.20" y="140.22" font-size="5.3" text-anchor="middle" font-weight="bold" stroke="#000" stroke-width="0.12">-2</text>
<line x1="539.00" y1="132.50" x2="539.00" y2="134.40" stroke="#111" stroke-width="0.7" stroke-linecap="butt"/>
<text x="539.00" y="140.22" font-size="5.3" text-anchor="middle" font-weight="bold" stroke="#000" stroke-width="0.12">-1</text>
<line x1="562.80" y1="132.50" x2="562.80" y2="134.40" stroke="#111" stroke-width="0.7" stroke-linecap="butt"/>
<text x="562.80" y="140.22" font-size="5.3" text-anchor="middle" font-weight="bold" stroke="#000" stroke-width="0.12">0</text>
<line x1="586.60" y1="132.50" x2="586.60" y2="134.40" stroke="#111" stroke-width="0.7" stroke-linecap="butt"/>
<text x="586.60" y="140.22" font-size="5.3" text-anchor="middle" font-weight="bold" stroke="#000" stroke-width="0.12">1</text>
<line x1="610.40" y1="132.50" x2="610.40" y2="134.40" stroke="#111" stroke-width="0.7" stroke-linecap="butt"/>
<text x="610.40" y="140.22" font-size="5.3" text-anchor="middle" font-weight="bold" stroke="#000" stroke-width="0.12">2</text>
<line x1="527.10" y1="132.50" x2="527.10" y2="133.50" stroke="#222" stroke-width="0.5" stroke-linecap="butt"/>
<line x1="550.90" y1="132.50" x2="550.90" y2="133.50" stroke="#222" stroke-width="0.5" stroke-linecap="butt"/>
<line x1="574.70" y1="132.50" x2="574.70" y2="133.50" stroke="#222" stroke-width="0.5" stroke-linecap="butt"/>
<line x1="598.50" y1="132.50" x2="598.50" y2="133.50" stroke="#222" stroke-width="0.5" stroke-linecap="butt"/>
<line x1="622.30" y1="132.50" x2="622.30" y2="133.50" stroke="#222" stroke-width="0.5" stroke-linecap="butt"/>
<line x1="513.10" y1="51.70" x2="515.00" y2="51.70" stroke="#111" stroke-width="0.7" stroke-linecap="butt"/>
<text x="511.80" y="53.12" font-size="5.3" text-anchor="end" font-weight="bold" stroke="#000" stroke-width="0.12">2</text>
<line x1="513.10" y1="67.90" x2="515.00" y2="67.90" stroke="#111" stroke-width="0.7" stroke-linecap="butt"/>
<text x="511.80" y="69.32" font-size="5.3" text-anchor="end" font-weight="bold" stroke="#000" stroke-width="0.12">1</text>
<line x1="513.10" y1="84.10" x2="515.00" y2="84.10" stroke="#111" stroke-width="0.7" stroke-linecap="butt"/>
<text x="511.80" y="85.52" font-size="5.3" text-anchor="end" font-weight="bold" stroke="#000" stroke-width="0.12">0</text>
<line x1="513.10" y1="100.30" x2="515.00" y2="100.30" stroke="#111" stroke-width="0.7" stroke-linecap="butt"/>
<text x="511.80" y="101.72" font-size="5.3" text-anchor="end" font-weight="bold" stroke="#000" stroke-width="0.12">-1</text>
<line x1="513.10" y1="116.50" x2="515.00" y2="116.50" stroke="#111" stroke-width="0.7" stroke-linecap="butt"/>
<text x="511.80" y="117.92" font-size="5.3" text-anchor="end" font-weight="bold" stroke="#000" stroke-width="0.12">-2</text>
<line x1="513.10" y1="132.70" x2="515.00" y2="132.70" stroke="#111" stroke-width="0.7" stroke-linecap="butt"/>
<text x="511.80" y="134.12" font-size="5.3" text-anchor="end" font-weight="bold" stroke="#000" stroke-width="0.12">-3</text>
<line x1="514.00" y1="59.80" x2="515.00" y2="59.80" stroke="#222" stroke-width="0.5" stroke-linecap="butt"/>
<line x1="514.00" y1="76.00" x2="515.00" y2="76.00" stroke="#222" stroke-width="0.5" stroke-linecap="butt"/>
<line x1="514.00" y1="92.20" x2="515.00" y2="92.20" stroke="#222" stroke-width="0.5" stroke-linecap="butt"/>
<line x1="514.00" y1="108.40" x2="515.00" y2="108.40" stroke="#222" stroke-width="0.5" stroke-linecap="butt"/>
<line x1="514.00" y1="124.60" x2="515.00" y2="124.60" stroke="#222" stroke-width="0.5" stroke-linecap="butt"/>
<text x="574.40" y="149.34" font-size="6.5" text-anchor="middle" font-weight="bold" stroke="#000" stroke-width="0.12">PC1 (52.8%)</text>
<text transform="translate(503.80 93.50) rotate(-90)" x="0" y="2.24" font-size="6.5" text-anchor="middle" font-weight="bold" stroke="#000" stroke-width="0.12">PC2 (15.8%)</text>
<circle cx="543.00" cy="63.20" r="1.6" fill="#fff" stroke="#1a1aff" stroke-width="0.85"/>
<circle cx="543.60" cy="65.40" r="1.6" fill="#fff" stroke="#1a1aff" stroke-width="0.85"/>
<circle cx="542.10" cy="68.80" r="1.6" fill="#fff" stroke="#1a1aff" stroke-width="0.85"/>
<circle cx="542.80" cy="75.10" r="1.6" fill="#fff" stroke="#1a1aff" stroke-width="0.85"/>
<circle cx="536.00" cy="77.60" r="1.6" fill="#fff" stroke="#1a1aff" stroke-width="0.85"/>
<circle cx="536.90" cy="89.70" r="1.6" fill="#fff" stroke="#1a1aff" stroke-width="0.85"/>
<circle cx="545.50" cy="75.60" r="2.05" fill="#0000ff"/>
<circle cx="547.70" cy="79.20" r="2.05" fill="#0000ff"/>
<circle cx="551.40" cy="80.70" r="2.05" fill="#0000ff"/>
<circle cx="551.80" cy="86.90" r="2.05" fill="#0000ff"/>
<circle cx="551.60" cy="95.10" r="2.05" fill="#0000ff"/>
<circle cx="533.30" cy="98.10" r="2.05" fill="#0000ff"/>
<circle cx="564.70" cy="73.90" r="2.05" fill="#0000ff"/>
<circle cx="564.00" cy="102.80" r="1.6" fill="#fff" stroke="#ff1a1a" stroke-width="0.85"/>
<circle cx="558.00" cy="107.80" r="1.6" fill="#fff" stroke="#ff1a1a" stroke-width="0.85"/>
<circle cx="565.00" cy="109.70" r="1.6" fill="#fff" stroke="#ff1a1a" stroke-width="0.85"/>
<circle cx="565.80" cy="124.70" r="1.6" fill="#fff" stroke="#ff1a1a" stroke-width="0.85"/>
<circle cx="579.70" cy="104.20" r="1.6" fill="#fff" stroke="#ff1a1a" stroke-width="0.85"/>
<circle cx="584.30" cy="104.20" r="1.6" fill="#fff" stroke="#ff1a1a" stroke-width="0.85"/>
<circle cx="593.50" cy="76.80" r="2.05" fill="#ff0000"/>
<circle cx="595.20" cy="77.00" r="2.05" fill="#ff0000"/>
<circle cx="599.10" cy="76.10" r="2.05" fill="#ff0000"/>
<circle cx="599.70" cy="73.70" r="2.05" fill="#ff0000"/>
<circle cx="604.00" cy="72.20" r="2.05" fill="#ff0000"/>
<circle cx="610.40" cy="67.30" r="2.05" fill="#ff0000"/>
<circle cx="640.10" cy="58.40" r="1.5" fill="#fff" stroke="#ff1a1a" stroke-width="0.7"/>
<text x="643.30" y="59.78" font-size="4.0" font-weight="bold">Cal 33 Control</text>
<circle cx="640.10" cy="63.13" r="1.95" fill="#ff0000"/>
<text x="643.30" y="64.51" font-size="4.0" font-weight="bold">Cal 33 RTX</text>
<circle cx="640.10" cy="67.86" r="1.5" fill="#fff" stroke="#1a1aff" stroke-width="0.7"/>
<text x="643.30" y="69.24" font-size="4.0" font-weight="bold">UDSCC 2 Control</text>
<circle cx="640.10" cy="72.59" r="1.95" fill="#0000ff"/>
<text x="643.30" y="73.97" font-size="4.0" font-weight="bold">UDSCC 2 RTX</text>
</g>
<g id="panelD">
<rect x="191.49" y="223.28" width="4.01" height="4.05" fill="#ddddff"/>
<rect x="196.06" y="223.28" width="4.01" height="4.05" fill="#d0d0ff"/>
<rect x="200.62" y="223.28" width="4.01" height="4.05" fill="#b4b4ff"/>
<rect x="205.19" y="223.28" width="4.01" height="4.05" fill="#b4b4ff"/>
<rect x="209.75" y="223.28" width="4.01" height="4.05" fill="#ff9999"/>
<rect x="214.31" y="223.28" width="4.01" height="4.05" fill="#ffbbbb"/>
<rect x="218.88" y="223.28" width="4.01" height="4.05" fill="#ff9999"/>
<rect x="223.44" y="223.28" width="4.01" height="4.05" fill="#ff9999"/>
<rect x="228.00" y="223.28" width="4.01" height="4.05" fill="#ff9999"/>
<rect x="232.57" y="223.28" width="4.01" height="4.05" fill="#ff9999"/>
<rect x="237.13" y="223.28" width="4.01" height="4.05" fill="#ff9999"/>
<rect x="241.70" y="223.28" width="4.01" height="4.05" fill="#ff8888"/>
<rect x="246.26" y="223.28" width="4.01" height="4.05" fill="#ff8888"/>
<rect x="250.82" y="223.28" width="4.01" height="4.05" fill="#ff8888"/>
<rect x="255.39" y="223.28" width="4.01" height="4.05" fill="#ff8888"/>
<rect x="259.95" y="223.28" width="4.01" height="4.05" fill="#ff8888"/>
<rect x="264.52" y="223.28" width="4.01" height="4.05" fill="#ff8888"/>
<rect x="269.08" y="223.28" width="4.01" height="4.05" fill="#ff8888"/>
<rect x="273.64" y="223.28" width="4.01" height="4.05" fill="#ff8888"/>
<rect x="278.21" y="223.28" width="4.01" height="4.05" fill="#ff9999"/>
<rect x="282.77" y="223.28" width="4.01" height="4.05" fill="#ff8888"/>
<rect x="287.34" y="223.28" width="4.01" height="4.05" fill="#ff8888"/>
<rect x="291.90" y="223.28" width="4.01" height="4.05" fill="#ff8888"/>
<rect x="191.49" y="227.88" width="4.01" height="4.05" fill="#ff0000"/>
<rect x="196.06" y="227.88" width="4.01" height="4.05" fill="#ff0000"/>
<rect x="209.75" y="227.88" width="4.01" height="4.05" fill="#ff7777"/>
<rect x="214.31" y="227.88" width="4.01" height="4.05" fill="#ffbbbb"/>
<rect x="218.88" y="227.88" width="4.01" height="4.05" fill="#ff9999"/>
<rect x="223.44" y="227.88" width="4.01" height="4.05" fill="#ffaaaa"/>
<rect x="228.00" y="227.88" width="4.01" height="4.05" fill="#ffbbbb"/>
<rect x="232.57" y="227.88" width="4.01" height="4.05" fill="#ffaaaa"/>
<rect x="241.70" y="227.88" width="4.01" height="4.05" fill="#f5f5ff"/>
<rect x="246.26" y="227.88" width="4.01" height="4.05" fill="#f5f5ff"/>
<rect x="250.82" y="227.88" width="4.01" height="4.05" fill="#ffcccc"/>
<rect x="255.39" y="227.88" width="4.01" height="4.05" fill="#ffdddd"/>
<rect x="259.95" y="227.88" width="4.01" height="4.05" fill="#ffdddd"/>
<rect x="264.52" y="227.88" width="4.01" height="4.05" fill="#ffcccc"/>
<rect x="269.08" y="227.88" width="4.01" height="4.05" fill="#7b7bff"/>
<rect x="273.64" y="227.88" width="4.01" height="4.05" fill="#c2c2ff"/>
<rect x="278.21" y="227.88" width="4.01" height="4.05" fill="#b4b4ff"/>
<rect x="282.77" y="227.88" width="4.01" height="4.05" fill="#b4b4ff"/>
<rect x="287.34" y="227.88" width="4.01" height="4.05" fill="#b4b4ff"/>
<rect x="291.90" y="227.88" width="4.01" height="4.05" fill="#d0d0ff"/>
<text transform="translate(193.50 221.90) rotate(-90)" x="0" y="1.32" font-size="3.85" fill="#3a3a3a" stroke="#3a3a3a" stroke-width="0.07">CXCL11</text>
<text transform="translate(198.06 221.90) rotate(-90)" x="0" y="1.32" font-size="3.85" fill="#3a3a3a" stroke="#3a3a3a" stroke-width="0.07">CXCL10</text>
<text transform="translate(202.63 221.90) rotate(-90)" x="0" y="1.32" font-size="3.85" fill="#3a3a3a" stroke="#3a3a3a" stroke-width="0.07">HGF</text>
<text transform="translate(207.19 221.90) rotate(-90)" x="0" y="1.32" font-size="3.85" fill="#3a3a3a" stroke="#3a3a3a" stroke-width="0.07">CCL26</text>
<text transform="translate(211.76 221.90) rotate(-90)" x="0" y="1.32" font-size="3.85" fill="#3a3a3a" stroke="#3a3a3a" stroke-width="0.07">CXCL3</text>
<text transform="translate(216.32 221.90) rotate(-90)" x="0" y="1.32" font-size="3.85" fill="#3a3a3a" stroke="#3a3a3a" stroke-width="0.07">CXCL7</text>
<text transform="translate(220.88 221.90) rotate(-90)" x="0" y="1.32" font-size="3.85" fill="#3a3a3a" stroke="#3a3a3a" stroke-width="0.07">IL6</text>
<text transform="translate(225.45 221.90) rotate(-90)" x="0" y="1.32" font-size="3.85" fill="#3a3a3a" stroke="#3a3a3a" stroke-width="0.07">CCL3</text>
<text transform="translate(230.01 221.90) rotate(-90)" x="0" y="1.32" font-size="3.85" fill="#3a3a3a" stroke="#3a3a3a" stroke-width="0.07">IL1b</text>
<text transform="translate(234.58 221.90) rotate(-90)" x="0" y="1.32" font-size="3.85" fill="#3a3a3a" stroke="#3a3a3a" stroke-width="0.07">CXCL2</text>
<text transform="translate(239.14 221.90) rotate(-90)" x="0" y="1.32" font-size="3.85" fill="#3a3a3a" stroke="#3a3a3a" stroke-width="0.07">GM-CSF</text>
<text transform="translate(243.70 221.90) rotate(-90)" x="0" y="1.32" font-size="3.85" fill="#3a3a3a" stroke="#3a3a3a" stroke-width="0.07">EGF</text>
<text transform="translate(248.27 221.90) rotate(-90)" x="0" y="1.32" font-size="3.85" fill="#3a3a3a" stroke="#3a3a3a" stroke-width="0.07">CXCL6</text>
<text transform="translate(252.83 221.90) rotate(-90)" x="0" y="1.32" font-size="3.85" fill="#3a3a3a" stroke="#3a3a3a" stroke-width="0.07">CXCL8</text>
<text transform="translate(257.40 221.90) rotate(-90)" x="0" y="1.32" font-size="3.85" fill="#3a3a3a" stroke="#3a3a3a" stroke-width="0.07">IL1a</text>
<text transform="translate(261.96 221.90) rotate(-90)" x="0" y="1.32" font-size="3.85" fill="#3a3a3a" stroke="#3a3a3a" stroke-width="0.07">VEGF</text>
<text transform="translate(266.52 221.90) rotate(-90)" x="0" y="1.32" font-size="3.85" fill="#3a3a3a" stroke="#3a3a3a" stroke-width="0.07">CXCL1</text>
<text transform="translate(271.09 221.90) rotate(-90)" x="0" y="1.32" font-size="3.85" fill="#3a3a3a" stroke="#3a3a3a" stroke-width="0.07">CXCL12</text>
<text transform="translate(275.65 221.90) rotate(-90)" x="0" y="1.32" font-size="3.85" fill="#3a3a3a" stroke="#3a3a3a" stroke-width="0.07">MIF</text>
<text transform="translate(280.22 221.90) rotate(-90)" x="0" y="1.32" font-size="3.85" fill="#3a3a3a" stroke="#3a3a3a" stroke-width="0.07">CCL5</text>
<text transform="translate(284.78 221.90) rotate(-90)" x="0" y="1.32" font-size="3.85" fill="#3a3a3a" stroke="#3a3a3a" stroke-width="0.07">CCL1</text>
<text transform="translate(289.34 221.90) rotate(-90)" x="0" y="1.32" font-size="3.85" fill="#3a3a3a" stroke="#3a3a3a" stroke-width="0.07">CXCR2</text>
<text transform="translate(293.91 221.90) rotate(-90)" x="0" y="1.32" font-size="3.85" fill="#3a3a3a" stroke="#3a3a3a" stroke-width="0.07">CCL13</text>
<text x="298.00" y="226.34" font-size="3.9" fill="#333">PC1</text>
<text x="298.00" y="231.04" font-size="3.9" fill="#333">PC2</text>
<path d="M195.50 200.70V173.00H248.50V181.40" fill="none" stroke="#222" stroke-width="0.7"/>
<path d="M193.50 205.60V200.70H198.06V205.60" fill="none" stroke="#222" stroke-width="0.7"/>
<path d="M204.80 204.60V181.40H252.60V190.50" fill="none" stroke="#222" stroke-width="0.7"/>
<path d="M202.23 205.60V204.60H206.79V205.60" fill="none" stroke="#222" stroke-width="0.7"/>
<path d="M239.40 195.40V190.50H282.40V198.70" fill="none" stroke="#222" stroke-width="0.7"/>
<path d="M223.20 198.70V195.40H252.60V200.00" fill="none" stroke="#222" stroke-width="0.7"/>
<path d="M211.76 205.60V198.70H225.50V200.50" fill="none" stroke="#555" stroke-width="0.7"/>
<path d="M216.32 205.60V200.50H227.00V202.00" fill="none" stroke="#222" stroke-width="0.7"/>
<path d="M220.88 205.60V202.00H229.00V203.20" fill="none" stroke="#222" stroke-width="0.7"/>
<path d="M225.45 205.60V203.20H231.00V204.20" fill="none" stroke="#222" stroke-width="0.7"/>
<path d="M230.01 205.60V204.20H234.58V205.60" fill="none" stroke="#222" stroke-width="0.7"/>
<path d="M243.60 203.00V200.00H259.80V202.50" fill="none" stroke="#222" stroke-width="0.7"/>
<path d="M239.14 205.60V203.00H244.70V204.40" fill="none" stroke="#222" stroke-width="0.7"/>
<path d="M243.70 205.60V204.40H248.27V205.60" fill="none" stroke="#222" stroke-width="0.7"/>
<path d="M252.83 205.60V202.50H261.50V203.70" fill="none" stroke="#222" stroke-width="0.7"/>
<path d="M257.40 205.60V203.70H264.00V204.60" fill="none" stroke="#222" stroke-width="0.7"/>
<path d="M261.96 205.60V204.60H266.52V205.60" fill="none" stroke="#222" stroke-width="0.7"/>
<path d="M271.09 205.60V198.70H284.50V203.60" fill="none" stroke="#555" stroke-width="0.7"/>
<path d="M275.65 205.60V203.60H293.91V205.60" fill="none" stroke="#222" stroke-width="0.7"/>
<path d="M280.22 205.60V204.30H289.34V205.60" fill="none" stroke="#222" stroke-width="0.7"/>
<line x1="284.78" y1="204.30" x2="284.78" y2="205.60" stroke="#222" stroke-width="0.7" stroke-linecap="butt"/>
<rect x="261.30" y="174.90" width="65.70" height="3.80" fill="url(#gbwr)" stroke="#111" stroke-width="0.5"/>
<text x="262.30" y="184.68" font-size="4.0" text-anchor="middle" font-weight="bold">-0.50</text>
<text x="294.60" y="184.68" font-size="4.0" text-anchor="middle" font-weight="bold">0.00</text>
<text x="326.80" y="184.68" font-size="4.0" text-anchor="middle" font-weight="bold">0.50</text>
<text x="334.90" y="184.64" font-size="3.9" font-weight="bold">Loadings</text>
</g>
<g id="panelE">
<text x="372.30" y="39.54" font-size="6.5">Protein expression in tumors</text>
<rect x="382.30" y="44.30" width="65.40" height="3.60" fill="url(#gwrk)" stroke="#111" stroke-width="0.5"/>
<text x="383.00" y="52.78" font-size="4.0" text-anchor="middle" font-weight="bold">0.00</text>
<text x="415.30" y="52.78" font-size="4.0" text-anchor="middle" font-weight="bold">1.50</text>
<text x="447.70" y="52.78" font-size="4.0" text-anchor="middle" font-weight="bold">3.00</text>
<text x="456.20" y="52.74" font-size="3.9" font-weight="bold">log10 [pg/ml]</text>
<rect x="374.12" y="110.16" width="3.97" height="3.98" fill="#e60000"/>
<rect x="378.63" y="110.16" width="3.97" height="3.98" fill="#b20000"/>
<rect x="383.16" y="110.16" width="3.97" height="3.98" fill="#ff0000"/>
<rect x="387.68" y="110.16" width="3.97" height="3.98" fill="#ff1919"/>
<rect x="392.19" y="110.16" width="3.97" height="3.98" fill="#e60000"/>
<rect x="396.72" y="110.16" width="3.97" height="3.98" fill="#ffcccc"/>
<rect x="401.24" y="110.16" width="3.97" height="3.98" fill="#ff0000"/>
<rect x="405.75" y="110.16" width="3.97" height="3.98" fill="#ff3333"/>
<rect x="410.27" y="110.16" width="3.97" height="3.98" fill="#ff0000"/>
<rect x="414.80" y="110.16" width="3.97" height="3.98" fill="#ff1919"/>
<rect x="419.31" y="110.16" width="3.97" height="3.98" fill="#ff0000"/>
<rect x="423.84" y="110.16" width="3.97" height="3.98" fill="#ff0000"/>
<rect x="428.36" y="110.16" width="3.97" height="3.98" fill="#990000"/>
<rect x="432.88" y="110.16" width="3.97" height="3.98" fill="#4d0000"/>
<rect x="437.39" y="110.16" width="3.97" height="3.98" fill="#b20000"/>
<rect x="441.92" y="110.16" width="3.97" height="3.98" fill="#4d0000"/>
<rect x="374.12" y="114.69" width="3.97" height="3.98" fill="#e60000"/>
<rect x="378.63" y="114.69" width="3.97" height="3.98" fill="#cc0000"/>
<rect x="383.16" y="114.69" width="3.97" height="3.98" fill="#ff0000"/>
<rect x="387.68" y="114.69" width="3.97" height="3.98" fill="#ff1919"/>
<rect x="392.19" y="114.69" width="3.97" height="3.98" fill="#e60000"/>
<rect x="396.72" y="114.69" width="3.97" height="3.98" fill="#ffcccc"/>
<rect x="401.24" y="114.69" width="3.97" height="3.98" fill="#ff3333"/>
<rect x="405.75" y="114.69" width="3.97" height="3.98" fill="#ff4d4d"/>
<rect x="410.27" y="114.69" width="3.97" height="3.98" fill="#ff3333"/>
<rect x="414.80" y="114.69" width="3.97" height="3.98" fill="#ff1919"/>
<rect x="419.31" y="114.69" width="3.97" height="3.98" fill="#ff0000"/>
<rect x="423.84" y="114.69" width="3.97" height="3.98" fill="#ff0000"/>
<rect x="428.36" y="114.69" width="3.97" height="3.98" fill="#990000"/>
<rect x="432.88" y="114.69" width="3.97" height="3.98" fill="#4d0000"/>
<rect x="437.39" y="114.69" width="3.97" height="3.98" fill="#b20000"/>
<rect x="441.92" y="114.69" width="3.97" height="3.98" fill="#4d0000"/>
<rect x="374.12" y="119.21" width="3.97" height="3.98" fill="#cc0000"/>
<rect x="378.63" y="119.21" width="3.97" height="3.98" fill="#e60000"/>
<rect x="383.16" y="119.21" width="3.97" height="3.98" fill="#ff0000"/>
<rect x="387.68" y="119.21" width="3.97" height="3.98" fill="#ff1919"/>
<rect x="392.19" y="119.21" width="3.97" height="3.98" fill="#cc0000"/>
<rect x="396.72" y="119.21" width="3.97" height="3.98" fill="#ffb2b2"/>
<rect x="401.24" y="119.21" width="3.97" height="3.98" fill="#ff3333"/>
<rect x="405.75" y="119.21" width="3.97" height="3.98" fill="#ff6666"/>
<rect x="410.27" y="119.21" width="3.97" height="3.98" fill="#ff4d4d"/>
<rect x="414.80" y="119.21" width="3.97" height="3.98" fill="#ff3333"/>
<rect x="419.31" y="119.21" width="3.97" height="3.98" fill="#ff0000"/>
<rect x="423.84" y="119.21" width="3.97" height="3.98" fill="#ff0000"/>
<rect x="428.36" y="119.21" width="3.97" height="3.98" fill="#990000"/>
<rect x="432.88" y="119.21" width="3.97" height="3.98" fill="#4d0000"/>
<rect x="437.39" y="119.21" width="3.97" height="3.98" fill="#b20000"/>
<rect x="441.92" y="119.21" width="3.97" height="3.98" fill="#330000"/>
<rect x="374.12" y="123.74" width="3.97" height="3.98" fill="#cc0000"/>
<rect x="378.63" y="123.74" width="3.97" height="3.98" fill="#cc0000"/>
<rect x="383.16" y="123.74" width="3.97" height="3.98" fill="#ff0000"/>
<rect x="387.68" y="123.74" width="3.97" height="3.98" fill="#ff0000"/>
<rect x="392.19" y="123.74" width="3.97" height="3.98" fill="#cc0000"/>
<rect x="396.72" y="123.74" width="3.97" height="3.98" fill="#ffb2b2"/>
<rect x="401.24" y="123.74" width="3.97" height="3.98" fill="#ff3333"/>
<rect x="405.75" y="123.74" width="3.97" height="3.98" fill="#ff6666"/>
<rect x="410.27" y="123.74" width="3.97" height="3.98" fill="#ff4d4d"/>
<rect x="414.80" y="123.74" width="3.97" height="3.98" fill="#ff1919"/>
<rect x="419.31" y="123.74" width="3.97" height="3.98" fill="#ff0000"/>
<rect x="423.84" y="123.74" width="3.97" height="3.98" fill="#ff0000"/>
<rect x="428.36" y="123.74" width="3.97" height="3.98" fill="#990000"/>
<rect x="432.88" y="123.74" width="3.97" height="3.98" fill="#330000"/>
<rect x="437.39" y="123.74" width="3.97" height="3.98" fill="#990000"/>
<rect x="441.92" y="123.74" width="3.97" height="3.98" fill="#330000"/>
<rect x="374.12" y="128.26" width="3.97" height="3.98" fill="#e60000"/>
<rect x="378.63" y="128.26" width="3.97" height="3.98" fill="#b20000"/>
<rect x="383.16" y="128.26" width="3.97" height="3.98" fill="#ff0000"/>
<rect x="387.68" y="128.26" width="3.97" height="3.98" fill="#ff0000"/>
<rect x="392.19" y="128.26" width="3.97" height="3.98" fill="#e60000"/>
<rect x="396.72" y="128.26" width="3.97" height="3.98" fill="#ffcccc"/>
<rect x="401.24" y="128.26" width="3.97" height="3.98" fill="#cc0000"/>
<rect x="405.75" y="128.26" width="3.97" height="3.98" fill="#e60000"/>
<rect x="410.27" y="128.26" width="3.97" height="3.98" fill="#e60000"/>
<rect x="414.80" y="128.26" width="3.97" height="3.98" fill="#ff3333"/>
<rect x="419.31" y="128.26" width="3.97" height="3.98" fill="#ff0000"/>
<rect x="423.84" y="128.26" width="3.97" height="3.98" fill="#ff0000"/>
<rect x="428.36" y="128.26" width="3.97" height="3.98" fill="#990000"/>
<rect x="432.88" y="128.26" width="3.97" height="3.98" fill="#4d0000"/>
<rect x="437.39" y="128.26" width="3.97" height="3.98" fill="#b20000"/>
<rect x="441.92" y="128.26" width="3.97" height="3.98" fill="#4d0000"/>
<rect x="374.12" y="132.79" width="3.97" height="3.98" fill="#b20000"/>
<rect x="378.63" y="132.79" width="3.97" height="3.98" fill="#b20000"/>
<rect x="383.16" y="132.79" width="3.97" height="3.98" fill="#ff0000"/>
<rect x="387.68" y="132.79" width="3.97" height="3.98" fill="#ff0000"/>
<rect x="392.19" y="132.79" width="3.97" height="3.98" fill="#cc0000"/>
<rect x="396.72" y="132.79" width="3.97" height="3.98" fill="#ffcccc"/>
<rect x="401.24" y="132.79" width="3.97" height="3.98" fill="#800000"/>
<rect x="405.75" y="132.79" width="3.97" height="3.98" fill="#b20000"/>
<rect x="410.27" y="132.79" width="3.97" height="3.98" fill="#b20000"/>
<rect x="414.80" y="132.79" width="3.97" height="3.98" fill="#ff4d4d"/>
<rect x="419.31" y="132.79" width="3.97" height="3.98" fill="#ff0000"/>
<rect x="423.84" y="132.79" width="3.97" height="3.98" fill="#ff1919"/>
<rect x="428.36" y="132.79" width="3.97" height="3.98" fill="#800000"/>
<rect x="432.88" y="132.79" width="3.97" height="3.98" fill="#660000"/>
<rect x="437.39" y="132.79" width="3.97" height="3.98" fill="#990000"/>
<rect x="441.92" y="132.79" width="3.97" height="3.98" fill="#4d0000"/>
<rect x="374.12" y="137.31" width="3.97" height="3.98" fill="#ff8f8f"/>
<rect x="378.63" y="137.31" width="3.97" height="3.98" fill="#ff8f8f"/>
<rect x="383.16" y="137.31" width="3.97" height="3.98" fill="#ffa8a8"/>
<rect x="387.68" y="137.31" width="3.97" height="3.98" fill="#ff8f8f"/>
<rect x="392.19" y="137.31" width="3.97" height="3.98" fill="#ffbdbd"/>
<rect x="396.72" y="137.31" width="3.97" height="3.98" fill="#ffe6e6"/>
<rect x="414.80" y="137.31" width="3.97" height="3.98" fill="#ffcccc"/>
<rect x="419.31" y="137.31" width="3.97" height="3.98" fill="#ff0000"/>
<rect x="423.84" y="137.31" width="3.97" height="3.98" fill="#e60000"/>
<rect x="428.36" y="137.31" width="3.97" height="3.98" fill="#b20000"/>
<rect x="432.88" y="137.31" width="3.97" height="3.98" fill="#ff0000"/>
<rect x="437.39" y="137.31" width="3.97" height="3.98" fill="#ff6666"/>
<rect x="441.92" y="137.31" width="3.97" height="3.98" fill="#190000"/>
<rect x="374.12" y="141.84" width="3.97" height="3.98" fill="#ffa3a3"/>
<rect x="378.63" y="141.84" width="3.97" height="3.98" fill="#ff8f8f"/>
<rect x="383.16" y="141.84" width="3.97" height="3.98" fill="#ff8f8f"/>
<rect x="387.68" y="141.84" width="3.97" height="3.98" fill="#ff7575"/>
<rect x="392.19" y="141.84" width="3.97" height="3.98" fill="#ffbdbd"/>
<rect x="396.72" y="141.84" width="3.97" height="3.98" fill="#ffcccc"/>
<rect x="414.80" y="141.84" width="3.97" height="3.98" fill="#ffb2b2"/>
<rect x="419.31" y="141.84" width="3.97" height="3.98" fill="#ff0000"/>
<rect x="423.84" y="141.84" width="3.97" height="3.98" fill="#ff0000"/>
<rect x="428.36" y="141.84" width="3.97" height="3.98" fill="#b20000"/>
<rect x="432.88" y="141.84" width="3.97" height="3.98" fill="#800000"/>
<rect x="437.39" y="141.84" width="3.97" height="3.98" fill="#e60000"/>
<rect x="441.92" y="141.84" width="3.97" height="3.98" fill="#000000"/>
<rect x="374.12" y="146.36" width="3.97" height="3.98" fill="#ff7575"/>
<rect x="378.63" y="146.36" width="3.97" height="3.98" fill="#ffbdbd"/>
<rect x="383.16" y="146.36" width="3.97" height="3.98" fill="#ff7575"/>
<rect x="387.68" y="146.36" width="3.97" height="3.98" fill="#ff7575"/>
<rect x="392.19" y="146.36" width="3.97" height="3.98" fill="#ffbdbd"/>
<rect x="396.72" y="146.36" width="3.97" height="3.98" fill="#ffcccc"/>
<rect x="414.80" y="146.36" width="3.97" height="3.98" fill="#ffb2b2"/>
<rect x="419.31" y="146.36" width="3.97" height="3.98" fill="#ff1919"/>
<rect x="423.84" y="146.36" width="3.97" height="3.98" fill="#ff0000"/>
<rect x="428.36" y="146.36" width="3.97" height="3.98" fill="#cc0000"/>
<rect x="432.88" y="146.36" width="3.97" height="3.98" fill="#990000"/>
<rect x="437.39" y="146.36" width="3.97" height="3.98" fill="#b20000"/>
<rect x="441.92" y="146.36" width="3.97" height="3.98" fill="#000000"/>
<rect x="374.12" y="150.89" width="3.97" height="3.98" fill="#ff5c5c"/>
<rect x="378.63" y="150.89" width="3.97" height="3.98" fill="#ffa3a3"/>
<rect x="383.16" y="150.89" width="3.97" height="3.98" fill="#ff8f8f"/>
<rect x="387.68" y="150.89" width="3.97" height="3.98" fill="#ff7575"/>
<rect x="392.19" y="150.89" width="3.97" height="3.98" fill="#ffa3a3"/>
<rect x="396.72" y="150.89" width="3.97" height="3.98" fill="#ffe6e6"/>
<rect x="414.80" y="150.89" width="3.97" height="3.98" fill="#ff9999"/>
<rect x="419.31" y="150.89" width="3.97" height="3.98" fill="#ff0000"/>
<rect x="423.84" y="150.89" width="3.97" height="3.98" fill="#ff0000"/>
<rect x="428.36" y="150.89" width="3.97" height="3.98" fill="#b20000"/>
<rect x="432.88" y="150.89" width="3.97" height="3.98" fill="#800000"/>
<rect x="437.39" y="150.89" width="3.97" height="3.98" fill="#b20000"/>
<rect x="441.92" y="150.89" width="3.97" height="3.98" fill="#000000"/>
<rect x="374.12" y="155.41" width="3.97" height="3.98" fill="#ff5c5c"/>
<rect x="378.63" y="155.41" width="3.97" height="3.98" fill="#ff2929"/>
<rect x="383.16" y="155.41" width="3.97" height="3.98" fill="#ff7575"/>
<rect x="387.68" y="155.41" width="3.97" height="3.98" fill="#ff8f8f"/>
<rect x="392.19" y="155.41" width="3.97" height="3.98" fill="#ffa3a3"/>
<rect x="396.72" y="155.41" width="3.97" height="3.98" fill="#ffcccc"/>
<rect x="410.27" y="155.41" width="3.97" height="3.98" fill="#ffb2b2"/>
<rect x="414.80" y="155.41" width="3.97" height="3.98" fill="#ff9999"/>
<rect x="419.31" y="155.41" width="3.97" height="3.98" fill="#ff0000"/>
<rect x="423.84" y="155.41" width="3.97" height="3.98" fill="#ff1919"/>
<rect x="428.36" y="155.41" width="3.97" height="3.98" fill="#b20000"/>
<rect x="432.88" y="155.41" width="3.97" height="3.98" fill="#660000"/>
<rect x="437.39" y="155.41" width="3.97" height="3.98" fill="#b20000"/>
<rect x="441.92" y="155.41" width="3.97" height="3.98" fill="#190000"/>
<rect x="374.12" y="159.94" width="3.97" height="3.98" fill="#ff3333"/>
<rect x="378.63" y="159.94" width="3.97" height="3.98" fill="#e60000"/>
<rect x="383.16" y="159.94" width="3.97" height="3.98" fill="#ff6666"/>
<rect x="387.68" y="159.94" width="3.97" height="3.98" fill="#ff6666"/>
<rect x="392.19" y="159.94" width="3.97" height="3.98" fill="#ff8080"/>
<rect x="396.72" y="159.94" width="3.97" height="3.98" fill="#ff9999"/>
<rect x="401.24" y="159.94" width="3.97" height="3.98" fill="#ffb2b2"/>
<rect x="410.27" y="159.94" width="3.97" height="3.98" fill="#ff0000"/>
<rect x="414.80" y="159.94" width="3.97" height="3.98" fill="#ff1919"/>
<rect x="419.31" y="159.94" width="3.97" height="3.98" fill="#ff1919"/>
<rect x="423.84" y="159.94" width="3.97" height="3.98" fill="#ff0000"/>
<rect x="428.36" y="159.94" width="3.97" height="3.98" fill="#990000"/>
<rect x="432.88" y="159.94" width="3.97" height="3.98" fill="#000000"/>
<rect x="437.39" y="159.94" width="3.97" height="3.98" fill="#190000"/>
<rect x="441.92" y="159.94" width="3.97" height="3.98" fill="#4d0000"/>
<rect x="374.12" y="164.46" width="3.97" height="3.98" fill="#ffbdbd"/>
<rect x="378.63" y="164.46" width="3.97" height="3.98" fill="#ffcdcd"/>
<rect x="383.16" y="164.46" width="3.97" height="3.98" fill="#ffcdcd"/>
<rect x="387.68" y="164.46" width="3.97" height="3.98" fill="#ff6666"/>
<rect x="392.19" y="164.46" width="3.97" height="3.98" fill="#ff8080"/>
<rect x="396.72" y="164.46" width="3.97" height="3.98" fill="#ffcccc"/>
<rect x="401.24" y="164.46" width="3.97" height="3.98" fill="#ffcccc"/>
<rect x="405.75" y="164.46" width="3.97" height="3.98" fill="#ffe6e6"/>
<rect x="410.27" y="164.46" width="3.97" height="3.98" fill="#ff0000"/>
<rect x="414.80" y="164.46" width="3.97" height="3.98" fill="#800000"/>
<rect x="419.31" y="164.46" width="3.97" height="3.98" fill="#cc0000"/>
<rect x="423.84" y="164.46" width="3.97" height="3.98" fill="#ff0000"/>
<rect x="428.36" y="164.46" width="3.97" height="3.98" fill="#e60000"/>
<rect x="432.88" y="164.46" width="3.97" height="3.98" fill="#cc0000"/>
<rect x="437.39" y="164.46" width="3.97" height="3.98" fill="#000000"/>
<rect x="441.92" y="164.46" width="3.97" height="3.98" fill="#ff0000"/>
<rect x="374.12" y="168.99" width="3.97" height="3.98" fill="#ffdede"/>
<rect x="378.63" y="168.99" width="3.97" height="3.98" fill="#ffeeee"/>
<rect x="383.16" y="168.99" width="3.97" height="3.98" fill="#ffcdcd"/>
<rect x="387.68" y="168.99" width="3.97" height="3.98" fill="#ff6666"/>
<rect x="392.19" y="168.99" width="3.97" height="3.98" fill="#ff6666"/>
<rect x="410.27" y="168.99" width="3.97" height="3.98" fill="#ff0000"/>
<rect x="414.80" y="168.99" width="3.97" height="3.98" fill="#800000"/>
<rect x="419.31" y="168.99" width="3.97" height="3.98" fill="#e60000"/>
<rect x="423.84" y="168.99" width="3.97" height="3.98" fill="#ff0000"/>
<rect x="428.36" y="168.99" width="3.97" height="3.98" fill="#ffcccc"/>
<rect x="432.88" y="168.99" width="3.97" height="3.98" fill="#ff0000"/>
<rect x="437.39" y="168.99" width="3.97" height="3.98" fill="#990000"/>
<rect x="441.92" y="168.99" width="3.97" height="3.98" fill="#ff0000"/>
<rect x="378.63" y="173.51" width="3.97" height="3.98" fill="#ffcdcd"/>
<rect x="383.16" y="173.51" width="3.97" height="3.98" fill="#ffbdbd"/>
<rect x="387.68" y="173.51" width="3.97" height="3.98" fill="#ff8080"/>
<rect x="392.19" y="173.51" width="3.97" height="3.98" fill="#ff9999"/>
<rect x="396.72" y="173.51" width="3.97" height="3.98" fill="#ffcccc"/>
<rect x="410.27" y="173.51" width="3.97" height="3.98" fill="#ff0000"/>
<rect x="414.80" y="173.51" width="3.97" height="3.98" fill="#e60000"/>
<rect x="419.31" y="173.51" width="3.97" height="3.98" fill="#e60000"/>
<rect x="423.84" y="173.51" width="3.97" height="3.98" fill="#ff0000"/>
<rect x="432.88" y="173.51" width="3.97" height="3.98" fill="#ff1919"/>
<rect x="437.39" y="173.51" width="3.97" height="3.98" fill="#ff0000"/>
<rect x="441.92" y="173.51" width="3.97" height="3.98" fill="#ff1919"/>
<rect x="378.63" y="178.04" width="3.97" height="3.98" fill="#ffcdcd"/>
<rect x="383.16" y="178.04" width="3.97" height="3.98" fill="#ffbdbd"/>
<rect x="387.68" y="178.04" width="3.97" height="3.98" fill="#ff8080"/>
<rect x="392.19" y="178.04" width="3.97" height="3.98" fill="#ff9999"/>
<rect x="396.72" y="178.04" width="3.97" height="3.98" fill="#ffcccc"/>
<rect x="410.27" y="178.04" width="3.97" height="3.98" fill="#ff0000"/>
<rect x="414.80" y="178.04" width="3.97" height="3.98" fill="#e60000"/>
<rect x="419.31" y="178.04" width="3.97" height="3.98" fill="#cc0000"/>
<rect x="423.84" y="178.04" width="3.97" height="3.98" fill="#ff0000"/>
<rect x="428.36" y="178.04" width="3.97" height="3.98" fill="#ffe6e6"/>
<rect x="432.88" y="178.04" width="3.97" height="3.98" fill="#ff3333"/>
<rect x="437.39" y="178.04" width="3.97" height="3.98" fill="#ff0000"/>
<rect x="441.92" y="178.04" width="3.97" height="3.98" fill="#ff1919"/>
<rect x="374.12" y="182.56" width="3.97" height="3.98" fill="#ffcdcd"/>
<rect x="378.63" y="182.56" width="3.97" height="3.98" fill="#ffcdcd"/>
<rect x="383.16" y="182.56" width="3.97" height="3.98" fill="#ffbdbd"/>
<rect x="387.68" y="182.56" width="3.97" height="3.98" fill="#ff6666"/>
<rect x="392.19" y="182.56" width="3.97" height="3.98" fill="#ff8080"/>
<rect x="396.72" y="182.56" width="3.97" height="3.98" fill="#ffe6e6"/>
<rect x="410.27" y="182.56" width="3.97" height="3.98" fill="#ff8080"/>
<rect x="414.80" y="182.56" width="3.97" height="3.98" fill="#800000"/>
<rect x="419.31" y="182.56" width="3.97" height="3.98" fill="#e60000"/>
<rect x="423.84" y="182.56" width="3.97" height="3.98" fill="#ff0000"/>
<rect x="428.36" y="182.56" width="3.97" height="3.98" fill="#ff8080"/>
<rect x="432.88" y="182.56" width="3.97" height="3.98" fill="#ff1919"/>
<rect x="437.39" y="182.56" width="3.97" height="3.98" fill="#990000"/>
<rect x="441.92" y="182.56" width="3.97" height="3.98" fill="#ff1919"/>
<rect x="374.12" y="187.09" width="3.97" height="3.98" fill="#ffcdcd"/>
<rect x="378.63" y="187.09" width="3.97" height="3.98" fill="#ffdede"/>
<rect x="383.16" y="187.09" width="3.97" height="3.98" fill="#ffbdbd"/>
<rect x="387.68" y="187.09" width="3.97" height="3.98" fill="#ff8080"/>
<rect x="392.19" y="187.09" width="3.97" height="3.98" fill="#ff9999"/>
<rect x="396.72" y="187.09" width="3.97" height="3.98" fill="#ffcccc"/>
<rect x="410.27" y="187.09" width="3.97" height="3.98" fill="#ff0000"/>
<rect x="414.80" y="187.09" width="3.97" height="3.98" fill="#cc0000"/>
<rect x="419.31" y="187.09" width="3.97" height="3.98" fill="#ff0000"/>
<rect x="423.84" y="187.09" width="3.97" height="3.98" fill="#ff0000"/>
<rect x="432.88" y="187.09" width="3.97" height="3.98" fill="#ff3333"/>
<rect x="437.39" y="187.09" width="3.97" height="3.98" fill="#ff1919"/>
<rect x="441.92" y="187.09" width="3.97" height="3.98" fill="#ff1919"/>
<rect x="378.63" y="191.61" width="3.97" height="3.98" fill="#ffdede"/>
<rect x="387.68" y="191.61" width="3.97" height="3.98" fill="#ff8080"/>
<rect x="410.27" y="191.61" width="3.97" height="3.98" fill="#ff0000"/>
<rect x="414.80" y="191.61" width="3.97" height="3.98" fill="#ffcccc"/>
<rect x="419.31" y="191.61" width="3.97" height="3.98" fill="#ff0000"/>
<rect x="423.84" y="191.61" width="3.97" height="3.98" fill="#ff1919"/>
<rect x="432.88" y="191.61" width="3.97" height="3.98" fill="#ff4d4d"/>
<rect x="437.39" y="191.61" width="3.97" height="3.98" fill="#ffcccc"/>
<rect x="441.92" y="191.61" width="3.97" height="3.98" fill="#ff1919"/>
<rect x="378.63" y="196.14" width="3.97" height="3.98" fill="#ffeeee"/>
<rect x="387.68" y="196.14" width="3.97" height="3.98" fill="#ff8080"/>
<rect x="392.19" y="196.14" width="3.97" height="3.98" fill="#ff4d4d"/>
<rect x="396.72" y="196.14" width="3.97" height="3.98" fill="#ffe6e6"/>
<rect x="414.80" y="196.14" width="3.97" height="3.98" fill="#cc0000"/>
<rect x="419.31" y="196.14" width="3.97" height="3.98" fill="#e60000"/>
<rect x="423.84" y="196.14" width="3.97" height="3.98" fill="#ff0000"/>
<rect x="432.88" y="196.14" width="3.97" height="3.98" fill="#ff4d4d"/>
<rect x="437.39" y="196.14" width="3.97" height="3.98" fill="#ff0000"/>
<rect x="441.92" y="196.14" width="3.97" height="3.98" fill="#ff1919"/>
<rect x="374.12" y="200.66" width="3.97" height="3.98" fill="#ffdede"/>
<rect x="378.63" y="200.66" width="3.97" height="3.98" fill="#ffcdcd"/>
<rect x="383.16" y="200.66" width="3.97" height="3.98" fill="#ffeeee"/>
<rect x="387.68" y="200.66" width="3.97" height="3.98" fill="#ff8080"/>
<rect x="392.19" y="200.66" width="3.97" height="3.98" fill="#ff4d4d"/>
<rect x="396.72" y="200.66" width="3.97" height="3.98" fill="#ffcccc"/>
<rect x="410.27" y="200.66" width="3.97" height="3.98" fill="#ff9999"/>
<rect x="414.80" y="200.66" width="3.97" height="3.98" fill="#800000"/>
<rect x="419.31" y="200.66" width="3.97" height="3.98" fill="#e60000"/>
<rect x="423.84" y="200.66" width="3.97" height="3.98" fill="#ff0000"/>
<rect x="432.88" y="200.66" width="3.97" height="3.98" fill="#ff3333"/>
<rect x="437.39" y="200.66" width="3.97" height="3.98" fill="#ff0000"/>
<rect x="441.92" y="200.66" width="3.97" height="3.98" fill="#cc0000"/>
<rect x="374.12" y="205.19" width="3.97" height="3.98" fill="#ffdede"/>
<rect x="378.63" y="205.19" width="3.97" height="3.98" fill="#ffdede"/>
<rect x="383.16" y="205.19" width="3.97" height="3.98" fill="#ffeeee"/>
<rect x="387.68" y="205.19" width="3.97" height="3.98" fill="#ff8080"/>
<rect x="392.19" y="205.19" width="3.97" height="3.98" fill="#ff6666"/>
<rect x="396.72" y="205.19" width="3.97" height="3.98" fill="#ffe6e6"/>
<rect x="410.27" y="205.19" width="3.97" height="3.98" fill="#ffcccc"/>
<rect x="414.80" y="205.19" width="3.97" height="3.98" fill="#990000"/>
<rect x="419.31" y="205.19" width="3.97" height="3.98" fill="#e60000"/>
<rect x="423.84" y="205.19" width="3.97" height="3.98" fill="#ff0000"/>
<rect x="432.88" y="205.19" width="3.97" height="3.98" fill="#ff3333"/>
<rect x="437.39" y="205.19" width="3.97" height="3.98" fill="#ff0000"/>
<rect x="441.92" y="205.19" width="3.97" height="3.98" fill="#ff0000"/>
<rect x="374.12" y="209.71" width="3.97" height="3.98" fill="#ffeeee"/>
<rect x="378.63" y="209.71" width="3.97" height="3.98" fill="#ffdede"/>
<rect x="383.16" y="209.71" width="3.97" height="3.98" fill="#ffeeee"/>
<rect x="387.68" y="209.71" width="3.97" height="3.98" fill="#ff8080"/>
<rect x="392.19" y="209.71" width="3.97" height="3.98" fill="#ff4d4d"/>
<rect x="396.72" y="209.71" width="3.97" height="3.98" fill="#ffcccc"/>
<rect x="414.80" y="209.71" width="3.97" height="3.98" fill="#990000"/>
<rect x="419.31" y="209.71" width="3.97" height="3.98" fill="#e60000"/>
<rect x="423.84" y="209.71" width="3.97" height="3.98" fill="#ff0000"/>
<rect x="432.88" y="209.71" width="3.97" height="3.98" fill="#ff4d4d"/>
<rect x="437.39" y="209.71" width="3.97" height="3.98" fill="#ff0000"/>
<rect x="441.92" y="209.71" width="3.97" height="3.98" fill="#ff0000"/>
<rect x="374.12" y="214.24" width="3.97" height="3.98" fill="#ffeeee"/>
<rect x="378.63" y="214.24" width="3.97" height="3.98" fill="#ffeeee"/>
<rect x="383.16" y="214.24" width="3.97" height="3.98" fill="#ffeeee"/>
<rect x="387.68" y="214.24" width="3.97" height="3.98" fill="#ff8080"/>
<rect x="392.19" y="214.24" width="3.97" height="3.98" fill="#ff6666"/>
<rect x="396.72" y="214.24" width="3.97" height="3.98" fill="#ffcccc"/>
<rect x="405.75" y="214.24" width="3.97" height="3.98" fill="#ffe6e6"/>
<rect x="414.80" y="214.24" width="3.97" height="3.98" fill="#990000"/>
<rect x="419.31" y="214.24" width="3.97" height="3.98" fill="#cc0000"/>
<rect x="423.84" y="214.24" width="3.97" height="3.98" fill="#e60000"/>
<rect x="432.88" y="214.24" width="3.97" height="3.98" fill="#ff3333"/>
<rect x="437.39" y="214.24" width="3.97" height="3.98" fill="#ff0000"/>
<rect x="441.92" y="214.24" width="3.97" height="3.98" fill="#ff0000"/>
<rect x="374.12" y="218.76" width="3.97" height="3.98" fill="#ffdede"/>
<rect x="378.63" y="218.76" width="3.97" height="3.98" fill="#ffdede"/>
<rect x="383.16" y="218.76" width="3.97" height="3.98" fill="#ffeeee"/>
<rect x="387.68" y="218.76" width="3.97" height="3.98" fill="#ff6666"/>
<rect x="392.19" y="218.76" width="3.97" height="3.98" fill="#ff4d4d"/>
<rect x="396.72" y="218.76" width="3.97" height="3.98" fill="#ffb2b2"/>
<rect x="410.27" y="218.76" width="3.97" height="3.98" fill="#ff9999"/>
<rect x="414.80" y="218.76" width="3.97" height="3.98" fill="#b20000"/>
<rect x="419.31" y="218.76" width="3.97" height="3.98" fill="#e60000"/>
<rect x="423.84" y="218.76" width="3.97" height="3.98" fill="#ff0000"/>
<rect x="432.88" y="218.76" width="3.97" height="3.98" fill="#ff4d4d"/>
<rect x="437.39" y="218.76" width="3.97" height="3.98" fill="#ff0000"/>
<rect x="441.92" y="218.76" width="3.97" height="3.98" fill="#ff0000"/>
<rect x="374.12" y="223.29" width="3.97" height="3.98" fill="#ffdede"/>
<rect x="378.63" y="223.29" width="3.97" height="3.98" fill="#ffcdcd"/>
<rect x="383.16" y="223.29" width="3.97" height="3.98" fill="#ffeeee"/>
<rect x="387.68" y="223.29" width="3.97" height="3.98" fill="#ff6666"/>
<rect x="392.19" y="223.29" width="3.97" height="3.98" fill="#ff4d4d"/>
<rect x="396.72" y="223.29" width="3.97" height="3.98" fill="#ffb2b2"/>
<rect x="410.27" y="223.29" width="3.97" height="3.98" fill="#ff6666"/>
<rect x="414.80" y="223.29" width="3.97" height="3.98" fill="#660000"/>
<rect x="419.31" y="223.29" width="3.97" height="3.98" fill="#e60000"/>
<rect x="423.84" y="223.29" width="3.97" height="3.98" fill="#ff0000"/>
<rect x="432.88" y="223.29" width="3.97" height="3.98" fill="#ff3333"/>
<rect x="441.92" y="223.29" width="3.97" height="3.98" fill="#ff0000"/>
<rect x="374.12" y="227.81" width="3.97" height="3.98" fill="#ffeeee"/>
<rect x="378.63" y="227.81" width="3.97" height="3.98" fill="#ffdede"/>
<rect x="387.68" y="227.81" width="3.97" height="3.98" fill="#ff8080"/>
<rect x="392.19" y="227.81" width="3.97" height="3.98" fill="#ff6666"/>
<rect x="396.72" y="227.81" width="3.97" height="3.98" fill="#ffb2b2"/>
<rect x="410.27" y="227.81" width="3.97" height="3.98" fill="#ffe6e6"/>
<rect x="414.80" y="227.81" width="3.97" height="3.98" fill="#b20000"/>
<rect x="419.31" y="227.81" width="3.97" height="3.98" fill="#e60000"/>
<rect x="423.84" y="227.81" width="3.97" height="3.98" fill="#ff0000"/>
<rect x="432.88" y="227.81" width="3.97" height="3.98" fill="#ff3333"/>
<rect x="437.39" y="227.81" width="3.97" height="3.98" fill="#ff0000"/>
<rect x="441.92" y="227.81" width="3.97" height="3.98" fill="#ff0000"/>
<text transform="translate(376.10 108.20) rotate(-90)" x="0" y="1.39" font-size="4.05" fill="#3a3a3a" stroke="#3a3a3a" stroke-width="0.07">IL1a</text>
<text transform="translate(380.62 108.20) rotate(-90)" x="0" y="1.39" font-size="4.05" fill="#3a3a3a" stroke="#3a3a3a" stroke-width="0.07">CXCL1</text>
<text transform="translate(385.14 108.20) rotate(-90)" x="0" y="1.39" font-size="4.05" fill="#3a3a3a" stroke="#3a3a3a" stroke-width="0.07">IL1b</text>
<text transform="translate(389.66 108.20) rotate(-90)" x="0" y="1.39" font-size="4.05" fill="#3a3a3a" stroke="#3a3a3a" stroke-width="0.07">IL6</text>
<text transform="translate(394.18 108.20) rotate(-90)" x="0" y="1.39" font-size="4.05" fill="#3a3a3a" stroke="#3a3a3a" stroke-width="0.07">CCL5</text>
<text transform="translate(398.70 108.20) rotate(-90)" x="0" y="1.39" font-size="4.05" fill="#3a3a3a" stroke="#3a3a3a" stroke-width="0.07">CCL2</text>
<text transform="translate(403.22 108.20) rotate(-90)" x="0" y="1.39" font-size="4.05" fill="#3a3a3a" stroke="#3a3a3a" stroke-width="0.07">CCL3</text>
<text transform="translate(407.74 108.20) rotate(-90)" x="0" y="1.39" font-size="4.05" fill="#3a3a3a" stroke="#3a3a3a" stroke-width="0.07">CCL4</text>
<text transform="translate(412.26 108.20) rotate(-90)" x="0" y="1.39" font-size="4.05" fill="#3a3a3a" stroke="#3a3a3a" stroke-width="0.07">CXCL12</text>
<text transform="translate(416.78 108.20) rotate(-90)" x="0" y="1.39" font-size="4.05" fill="#3a3a3a" stroke="#3a3a3a" stroke-width="0.07">CXCL10</text>
<text transform="translate(421.30 108.20) rotate(-90)" x="0" y="1.39" font-size="4.05" fill="#3a3a3a" stroke="#3a3a3a" stroke-width="0.07">CXCL11</text>
<text transform="translate(425.82 108.20) rotate(-90)" x="0" y="1.39" font-size="4.05" fill="#3a3a3a" stroke="#3a3a3a" stroke-width="0.07">CCL7</text>
<text transform="translate(430.34 108.20) rotate(-90)" x="0" y="1.39" font-size="4.05" fill="#3a3a3a" stroke="#3a3a3a" stroke-width="0.07">CXCL8</text>
<text transform="translate(434.86 108.20) rotate(-90)" x="0" y="1.39" font-size="4.05" fill="#3a3a3a" stroke="#3a3a3a" stroke-width="0.07">PAI1</text>
<text transform="translate(439.38 108.20) rotate(-90)" x="0" y="1.39" font-size="4.05" fill="#3a3a3a" stroke="#3a3a3a" stroke-width="0.07">VEGFa</text>
<text transform="translate(443.90 108.20) rotate(-90)" x="0" y="1.39" font-size="4.05" fill="#3a3a3a" stroke="#3a3a3a" stroke-width="0.07">tPA</text>
<path d="M394.20 64.40V56.40H430.60V60.70" fill="none" stroke="#222" stroke-width="0.7"/>
<path d="M391.50 69.50V64.40H412.26V88.80" fill="none" stroke="#222" stroke-width="0.7"/>
<path d="M384.50 72.30V69.50H403.40V70.90" fill="none" stroke="#222" stroke-width="0.7"/>
<path d="M398.70 88.80V70.90H405.40V80.30" fill="none" stroke="#222" stroke-width="0.7"/>
<path d="M403.22 88.80V80.30H407.74V88.80" fill="none" stroke="#222" stroke-width="0.7"/>
<path d="M376.10 88.80V72.30H387.40V76.20" fill="none" stroke="#222" stroke-width="0.7"/>
<path d="M382.60 81.00V76.20H391.80V78.20" fill="none" stroke="#222" stroke-width="0.7"/>
<path d="M380.62 88.80V81.00H385.14V88.80" fill="none" stroke="#222" stroke-width="0.7"/>
<path d="M389.66 88.80V78.20H394.18V88.80" fill="none" stroke="#222" stroke-width="0.7"/>
<path d="M421.70 71.20V60.70H437.50V63.90" fill="none" stroke="#222" stroke-width="0.7"/>
<path d="M416.78 88.80V71.20H424.00V84.00" fill="none" stroke="#222" stroke-width="0.7"/>
<path d="M421.30 88.80V84.00H425.82V88.80" fill="none" stroke="#222" stroke-width="0.7"/>
<path d="M430.34 88.80V63.90H439.60V69.70" fill="none" stroke="#222" stroke-width="0.7"/>
<path d="M437.50 74.40V69.70H443.90V88.80" fill="none" stroke="#222" stroke-width="0.7"/>
<path d="M434.86 88.80V74.40H439.38V88.80" fill="none" stroke="#222" stroke-width="0.7"/>
<path d="M373.10 110.20H369.80V163.60H373.10" fill="none" stroke="#5a5a5a" stroke-width="0.9"/>
<path d="M373.10 163.60H369.80V232.40H373.10" fill="none" stroke="#5a5a5a" stroke-width="0.9"/>
<path d="M449.50 110.20H451.50V136.60H449.50" fill="none" stroke="#5a5a5a" stroke-width="0.9"/>
<path d="M449.50 136.60H451.50V163.60H449.50" fill="none" stroke="#5a5a5a" stroke-width="0.9"/>
<path d="M449.50 163.60H451.50V195.70H449.50" fill="none" stroke="#5a5a5a" stroke-width="0.9"/>
<path d="M449.50 195.70H451.50V232.40H449.50" fill="none" stroke="#5a5a5a" stroke-width="0.9"/>
<text transform="translate(366.20 137.60) rotate(-90)" x="0" y="2.17" font-size="6.3" text-anchor="middle" font-weight="bold" stroke="#000" stroke-width="0.12">Cal 33</text>
<text transform="translate(366.20 198.30) rotate(-90)" x="0" y="2.17" font-size="6.3" text-anchor="middle" font-weight="bold" stroke="#000" stroke-width="0.12">UDSCC 2</text>
<text x="454.00" y="125.88" font-size="6.35" font-weight="bold" stroke="#000" stroke-width="0.12">RTX</text>
<text x="454.00" y="153.08" font-size="6.35" font-weight="bold" stroke="#000" stroke-width="0.12">Control</text>
<text x="454.00" y="182.48" font-size="6.35" font-weight="bold" stroke="#000" stroke-width="0.12">RTX</text>
<text x="454.00" y="216.68" font-size="6.35" font-weight="bold" stroke="#000" stroke-width="0.12">Control</text>
</g>
<g id="panelG">
<rect x="515.69" y="223.17" width="4.02" height="4.05" fill="#ffecec"/>
<rect x="520.26" y="223.17" width="4.02" height="4.05" fill="#ffd8d8"/>
<rect x="524.83" y="223.17" width="4.02" height="4.05" fill="#ff9e9e"/>
<rect x="529.39" y="223.17" width="4.02" height="4.05" fill="#e9e9ff"/>
<rect x="533.96" y="223.17" width="4.02" height="4.05" fill="#ddddff"/>
<rect x="538.53" y="223.17" width="4.02" height="4.05" fill="#ff7878"/>
<rect x="543.09" y="223.17" width="4.02" height="4.05" fill="#ff7878"/>
<rect x="547.66" y="223.17" width="4.02" height="4.05" fill="#ff6464"/>
<rect x="552.23" y="223.17" width="4.02" height="4.05" fill="#ff6464"/>
<rect x="556.79" y="223.17" width="4.02" height="4.05" fill="#ff8b8b"/>
<rect x="561.36" y="223.17" width="4.02" height="4.05" fill="#ff7878"/>
<rect x="565.93" y="223.17" width="4.02" height="4.05" fill="#ff6464"/>
<rect x="570.50" y="223.17" width="4.02" height="4.05" fill="#ff8b8b"/>
<rect x="575.06" y="223.17" width="4.02" height="4.05" fill="#ff5151"/>
<rect x="579.63" y="223.17" width="4.02" height="4.05" fill="#ff5151"/>
<rect x="584.20" y="223.17" width="4.02" height="4.05" fill="#ff6464"/>
<rect x="515.69" y="227.77" width="4.02" height="4.05" fill="#ff8b8b"/>
<rect x="520.26" y="227.77" width="4.02" height="4.05" fill="#ff5151"/>
<rect x="524.83" y="227.77" width="4.02" height="4.05" fill="#ff5151"/>
<rect x="529.39" y="227.77" width="4.02" height="4.05" fill="#ff3e3e"/>
<rect x="533.96" y="227.77" width="4.02" height="4.05" fill="#ff0000"/>
<rect x="538.53" y="227.77" width="4.02" height="4.05" fill="#ff6464"/>
<rect x="543.09" y="227.77" width="4.02" height="4.05" fill="#ff9e9e"/>
<rect x="547.66" y="227.77" width="4.02" height="4.05" fill="#ffb2b2"/>
<rect x="552.23" y="227.77" width="4.02" height="4.05" fill="#ffc5c5"/>
<rect x="556.79" y="227.77" width="4.02" height="4.05" fill="#3f3fff"/>
<rect x="561.36" y="227.77" width="4.02" height="4.05" fill="#b4b4ff"/>
<rect x="565.93" y="227.77" width="4.02" height="4.05" fill="#9898ff"/>
<rect x="570.50" y="227.77" width="4.02" height="4.05" fill="#9898ff"/>
<rect x="575.06" y="227.77" width="4.02" height="4.05" fill="#f5f5ff"/>
<rect x="579.63" y="227.77" width="4.02" height="4.05" fill="#e9e9ff"/>
<rect x="584.20" y="227.77" width="4.02" height="4.05" fill="#ffecec"/>
<text transform="translate(517.70 222.00) rotate(-90)" x="0" y="1.38" font-size="4.0" fill="#3a3a3a" stroke="#3a3a3a" stroke-width="0.07">CCL7</text>
<text transform="translate(522.27 222.00) rotate(-90)" x="0" y="1.38" font-size="4.0" fill="#3a3a3a" stroke="#3a3a3a" stroke-width="0.07">CCL2</text>
<text transform="translate(526.83 222.00) rotate(-90)" x="0" y="1.38" font-size="4.0" fill="#3a3a3a" stroke="#3a3a3a" stroke-width="0.07">CXCL12</text>
<text transform="translate(531.40 222.00) rotate(-90)" x="0" y="1.38" font-size="4.0" fill="#3a3a3a" stroke="#3a3a3a" stroke-width="0.07">CXCL11</text>
<text transform="translate(535.97 222.00) rotate(-90)" x="0" y="1.38" font-size="4.0" fill="#3a3a3a" stroke="#3a3a3a" stroke-width="0.07">CXCL10</text>
<text transform="translate(540.54 222.00) rotate(-90)" x="0" y="1.38" font-size="4.0" fill="#3a3a3a" stroke="#3a3a3a" stroke-width="0.07">CCL5</text>
<text transform="translate(545.10 222.00) rotate(-90)" x="0" y="1.38" font-size="4.0" fill="#3a3a3a" stroke="#3a3a3a" stroke-width="0.07">CCL4</text>
<text transform="translate(549.67 222.00) rotate(-90)" x="0" y="1.38" font-size="4.0" fill="#3a3a3a" stroke="#3a3a3a" stroke-width="0.07">CCL3</text>
<text transform="translate(554.24 222.00) rotate(-90)" x="0" y="1.38" font-size="4.0" fill="#3a3a3a" stroke="#3a3a3a" stroke-width="0.07">IL6</text>
<text transform="translate(558.80 222.00) rotate(-90)" x="0" y="1.38" font-size="4.0" fill="#3a3a3a" stroke="#3a3a3a" stroke-width="0.07">tPA</text>
<text transform="translate(563.37 222.00) rotate(-90)" x="0" y="1.38" font-size="4.0" fill="#3a3a3a" stroke="#3a3a3a" stroke-width="0.07">VEGFa</text>
<text transform="translate(567.94 222.00) rotate(-90)" x="0" y="1.38" font-size="4.0" fill="#3a3a3a" stroke="#3a3a3a" stroke-width="0.07">PAI1</text>
<text transform="translate(572.50 222.00) rotate(-90)" x="0" y="1.38" font-size="4.0" fill="#3a3a3a" stroke="#3a3a3a" stroke-width="0.07">CXCL8</text>
<text transform="translate(577.07 222.00) rotate(-90)" x="0" y="1.38" font-size="4.0" fill="#3a3a3a" stroke="#3a3a3a" stroke-width="0.07">IL1b</text>
<text transform="translate(581.64 222.00) rotate(-90)" x="0" y="1.38" font-size="4.0" fill="#3a3a3a" stroke="#3a3a3a" stroke-width="0.07">IL1a</text>
<text transform="translate(586.21 222.00) rotate(-90)" x="0" y="1.38" font-size="4.0" fill="#3a3a3a" stroke="#3a3a3a" stroke-width="0.07">CXCL1</text>
<text x="590.80" y="226.14" font-size="3.9" fill="#333">PC1</text>
<text x="590.80" y="230.84" font-size="3.9" fill="#333">PC2</text>
<path d="M536.00 184.40V172.40H572.50V189.40" fill="none" stroke="#222" stroke-width="0.7"/>
<path d="M526.60 189.40V184.40H547.40V194.60" fill="none" stroke="#222" stroke-width="0.7"/>
<path d="M522.30 193.50V189.40H533.60V196.30" fill="none" stroke="#222" stroke-width="0.7"/>
<path d="M517.70 204.60V193.50H524.30V198.10" fill="none" stroke="#222" stroke-width="0.7"/>
<path d="M522.27 204.60V198.10H526.83V204.60" fill="none" stroke="#222" stroke-width="0.7"/>
<path d="M531.40 204.60V196.30H535.97V204.60" fill="none" stroke="#222" stroke-width="0.7"/>
<path d="M543.00 198.60V194.60H552.10V203.00" fill="none" stroke="#222" stroke-width="0.7"/>
<path d="M540.54 204.60V198.60H545.10V204.60" fill="none" stroke="#222" stroke-width="0.7"/>
<path d="M549.67 204.60V203.00H554.24V204.60" fill="none" stroke="#222" stroke-width="0.7"/>
<path d="M565.50 194.30V189.40H581.70V199.80" fill="none" stroke="#222" stroke-width="0.7"/>
<path d="M558.80 204.60V194.30H567.80V197.80" fill="none" stroke="#222" stroke-width="0.7"/>
<path d="M563.37 204.60V197.80H570.20V203.00" fill="none" stroke="#222" stroke-width="0.7"/>
<path d="M567.94 204.60V203.00H572.50V204.60" fill="none" stroke="#222" stroke-width="0.7"/>
<path d="M579.50 202.50V199.80H586.21V204.60" fill="none" stroke="#222" stroke-width="0.7"/>
<path d="M577.07 204.60V202.50H581.64V204.60" fill="none" stroke="#222" stroke-width="0.7"/>
<rect x="594.00" y="175.20" width="66.00" height="4.40" fill="url(#gbwr)" stroke="#111" stroke-width="0.5"/>
<text x="594.70" y="185.08" font-size="4.0" text-anchor="middle" font-weight="bold">-0.50</text>
<text x="627.20" y="185.08" font-size="4.0" text-anchor="middle" font-weight="bold">0.00</text>
<text x="659.60" y="185.08" font-size="4.0" text-anchor="middle" font-weight="bold">0.50</text>
<text x="668.00" y="185.04" font-size="3.9" font-weight="bold">Loadings</text>
</g>
<g id="panelH">
<rect x="31.60" y="369.10" width="247.50" height="28.30" fill="#e5e5e5"/>
<text x="66.90" y="271.04" font-size="6.5" text-anchor="middle">UDSCC 2 tumors</text>
<text x="66.70" y="278.57" font-size="6.6" text-anchor="middle" font-style="italic">in vivo</text>
<line x1="66.70" y1="284.60" x2="66.70" y2="397.20" stroke="#3a3a3a" stroke-width="0.8" stroke-linecap="butt"/>
<line x1="31.36" y1="397.20" x2="102.04" y2="397.20" stroke="#6e6e6e" stroke-width="1.0" stroke-linecap="butt"/>
<line x1="31.66" y1="397.20" x2="31.66" y2="399.20" stroke="#444" stroke-width="0.7" stroke-linecap="butt"/>
<text x="31.66" y="404.75" font-size="5.1" text-anchor="middle" font-weight="bold" stroke="#000" stroke-width="0.12">-6</text>
<line x1="37.50" y1="397.20" x2="37.50" y2="398.20" stroke="#222" stroke-width="0.5" stroke-linecap="butt"/>
<line x1="43.34" y1="397.20" x2="43.34" y2="399.20" stroke="#444" stroke-width="0.7" stroke-linecap="butt"/>
<text x="43.34" y="404.75" font-size="5.1" text-anchor="middle" font-weight="bold" stroke="#000" stroke-width="0.12">-4</text>
<line x1="49.18" y1="397.20" x2="49.18" y2="398.20" stroke="#222" stroke-width="0.5" stroke-linecap="butt"/>
<line x1="55.02" y1="397.20" x2="55.02" y2="399.20" stroke="#444" stroke-width="0.7" stroke-linecap="butt"/>
<text x="55.02" y="404.75" font-size="5.1" text-anchor="middle" font-weight="bold" stroke="#000" stroke-width="0.12">-2</text>
<line x1="60.86" y1="397.20" x2="60.86" y2="398.20" stroke="#222" stroke-width="0.5" stroke-linecap="butt"/>
<line x1="66.70" y1="397.20" x2="66.70" y2="399.20" stroke="#444" stroke-width="0.7" stroke-linecap="butt"/>
<text x="66.70" y="404.75" font-size="5.1" text-anchor="middle" font-weight="bold" stroke="#000" stroke-width="0.12">0</text>
<line x1="72.54" y1="397.20" x2="72.54" y2="398.20" stroke="#222" stroke-width="0.5" stroke-linecap="butt"/>
<line x1="78.38" y1="397.20" x2="78.38" y2="399.20" stroke="#444" stroke-width="0.7" stroke-linecap="butt"/>
<text x="78.38" y="404.75" font-size="5.1" text-anchor="middle" font-weight="bold" stroke="#000" stroke-width="0.12">2</text>
<line x1="84.22" y1="397.20" x2="84.22" y2="398.20" stroke="#222" stroke-width="0.5" stroke-linecap="butt"/>
<line x1="90.06" y1="397.20" x2="90.06" y2="399.20" stroke="#444" stroke-width="0.7" stroke-linecap="butt"/>
<text x="90.06" y="404.75" font-size="5.1" text-anchor="middle" font-weight="bold" stroke="#000" stroke-width="0.12">4</text>
<line x1="95.90" y1="397.20" x2="95.90" y2="398.20" stroke="#222" stroke-width="0.5" stroke-linecap="butt"/>
<line x1="101.74" y1="397.20" x2="101.74" y2="399.20" stroke="#444" stroke-width="0.7" stroke-linecap="butt"/>
<text x="101.74" y="404.75" font-size="5.1" text-anchor="middle" font-weight="bold" stroke="#000" stroke-width="0.12">6</text>
<line x1="65.00" y1="397.20" x2="66.70" y2="397.20" stroke="#222" stroke-width="0.6" stroke-linecap="butt"/>
<line x1="65.70" y1="383.16" x2="66.70" y2="383.16" stroke="#222" stroke-width="0.5" stroke-linecap="butt"/>
<line x1="65.00" y1="369.12" x2="66.70" y2="369.12" stroke="#222" stroke-width="0.6" stroke-linecap="butt"/>
<text x="63.80" y="370.94" font-size="5.3" text-anchor="end" font-weight="bold" stroke="#000" stroke-width="0.12">1</text>
<line x1="65.70" y1="355.08" x2="66.70" y2="355.08" stroke="#222" stroke-width="0.5" stroke-linecap="butt"/>
<line x1="65.00" y1="341.04" x2="66.70" y2="341.04" stroke="#222" stroke-width="0.6" stroke-linecap="butt"/>
<text x="63.80" y="342.86" font-size="5.3" text-anchor="end" font-weight="bold" stroke="#000" stroke-width="0.12">2</text>
<line x1="65.70" y1="327.00" x2="66.70" y2="327.00" stroke="#222" stroke-width="0.5" stroke-linecap="butt"/>
<line x1="65.00" y1="312.96" x2="66.70" y2="312.96" stroke="#222" stroke-width="0.6" stroke-linecap="butt"/>
<text x="63.80" y="314.78" font-size="5.3" text-anchor="end" font-weight="bold" stroke="#000" stroke-width="0.12">3</text>
<line x1="65.70" y1="298.92" x2="66.70" y2="298.92" stroke="#222" stroke-width="0.5" stroke-linecap="butt"/>
<line x1="65.00" y1="284.88" x2="66.70" y2="284.88" stroke="#222" stroke-width="0.6" stroke-linecap="butt"/>
<text x="63.80" y="286.70" font-size="5.3" text-anchor="end" font-weight="bold" stroke="#000" stroke-width="0.12">4</text>
<text x="66.70" y="412.14" font-size="6.5" text-anchor="middle" font-weight="bold" stroke="#000" stroke-width="0.12">Fold change [log2]</text>
<text transform="translate(71.10 315.80) rotate(-90)" x="0" y="2.20" font-size="6.4" text-anchor="middle" font-weight="bold" stroke="#000" stroke-width="0.12">FDR q-value [-log10]</text>
<text x="70.20" y="371.91" font-size="3.8" fill="#222">CCL4</text>
<text x="69.50" y="377.31" font-size="3.8" fill="#222">CXCL11</text>
<text x="69.20" y="380.31" font-size="3.8" fill="#222">tPA</text>
<text x="69.60" y="383.01" font-size="3.8" fill="#222">CXCL10</text>
<text x="90.20" y="382.31" font-size="3.8" fill="#222">CXCL8</text>
<text x="96.20" y="384.91" font-size="3.8" fill="#222">VEGFa</text>
<circle cx="66.60" cy="370.60" r="1.7" fill="#ffffff" stroke="#1a1a1a" stroke-width="0.7"/>
<circle cx="65.90" cy="376.00" r="1.7" fill="#ffffff" stroke="#1a1a1a" stroke-width="0.7"/>
<circle cx="64.20" cy="380.60" r="1.7" fill="#ffffff" stroke="#1a1a1a" stroke-width="0.7"/>
<circle cx="66.30" cy="379.80" r="1.7" fill="#ffffff" stroke="#1a1a1a" stroke-width="0.7"/>
<circle cx="70.00" cy="385.40" r="1.7" fill="#ffffff" stroke="#1a1a1a" stroke-width="0.7"/>
<circle cx="70.40" cy="387.70" r="1.7" fill="#ffffff" stroke="#1a1a1a" stroke-width="0.7"/>
<circle cx="64.70" cy="391.80" r="1.7" fill="#ffffff" stroke="#1a1a1a" stroke-width="0.7"/>
<circle cx="62.90" cy="393.50" r="1.7" fill="#ffffff" stroke="#1a1a1a" stroke-width="0.7"/>
<circle cx="69.60" cy="393.50" r="1.7" fill="#ffffff" stroke="#1a1a1a" stroke-width="0.7"/>
<circle cx="58.50" cy="396.50" r="1.7" fill="#b4b8ee" stroke="#1a1a1a" stroke-width="0.7"/>
<circle cx="75.70" cy="396.00" r="1.7" fill="#f6c4c4" stroke="#1a1a1a" stroke-width="0.7"/>
<circle cx="79.20" cy="390.00" r="1.7" fill="#ee8080" stroke="#1a1a1a" stroke-width="0.7"/>
<circle cx="84.80" cy="396.50" r="1.7" fill="#ea6a6a" stroke="#1a1a1a" stroke-width="0.7"/>
<circle cx="90.10" cy="385.40" r="1.7" fill="#e82020" stroke="#1a1a1a" stroke-width="0.7"/>
<circle cx="91.90" cy="385.40" r="1.7" fill="#e82020" stroke="#1a1a1a" stroke-width="0.7"/>
<text x="155.50" y="271.04" font-size="6.5" text-anchor="middle">Cal 33 tumors</text>
<text x="155.30" y="278.57" font-size="6.6" text-anchor="middle" font-style="italic">in vivo</text>
<line x1="155.30" y1="284.60" x2="155.30" y2="397.20" stroke="#8c8c8c" stroke-width="1.2" stroke-linecap="butt"/>
<line x1="119.96" y1="397.20" x2="190.64" y2="397.20" stroke="#6e6e6e" stroke-width="1.0" stroke-linecap="butt"/>
<line x1="120.26" y1="397.20" x2="120.26" y2="399.20" stroke="#444" stroke-width="0.7" stroke-linecap="butt"/>
<text x="120.26" y="404.75" font-size="5.1" text-anchor="middle" font-weight="bold" stroke="#000" stroke-width="0.12">-6</text>
<line x1="126.10" y1="397.20" x2="126.10" y2="398.20" stroke="#222" stroke-width="0.5" stroke-linecap="butt"/>
<line x1="131.94" y1="397.20" x2="131.94" y2="399.20" stroke="#444" stroke-width="0.7" stroke-linecap="butt"/>
<text x="131.94" y="404.75" font-size="5.1" text-anchor="middle" font-weight="bold" stroke="#000" stroke-width="0.12">-4</text>
<line x1="137.78" y1="397.20" x2="137.78" y2="398.20" stroke="#222" stroke-width="0.5" stroke-linecap="butt"/>
<line x1="143.62" y1="397.20" x2="143.62" y2="399.20" stroke="#444" stroke-width="0.7" stroke-linecap="butt"/>
<text x="143.62" y="404.75" font-size="5.1" text-anchor="middle" font-weight="bold" stroke="#000" stroke-width="0.12">-2</text>
<line x1="149.46" y1="397.20" x2="149.46" y2="398.20" stroke="#222" stroke-width="0.5" stroke-linecap="butt"/>
<line x1="155.30" y1="397.20" x2="155.30" y2="399.20" stroke="#444" stroke-width="0.7" stroke-linecap="butt"/>
<text x="155.30" y="404.75" font-size="5.1" text-anchor="middle" font-weight="bold" stroke="#000" stroke-width="0.12">0</text>
<line x1="161.14" y1="397.20" x2="161.14" y2="398.20" stroke="#222" stroke-width="0.5" stroke-linecap="butt"/>
<line x1="166.98" y1="397.20" x2="166.98" y2="399.20" stroke="#444" stroke-width="0.7" stroke-linecap="butt"/>
<text x="166.98" y="404.75" font-size="5.1" text-anchor="middle" font-weight="bold" stroke="#000" stroke-width="0.12">2</text>
<line x1="172.82" y1="397.20" x2="172.82" y2="398.20" stroke="#222" stroke-width="0.5" stroke-linecap="butt"/>
<line x1="178.66" y1="397.20" x2="178.66" y2="399.20" stroke="#444" stroke-width="0.7" stroke-linecap="butt"/>
<text x="178.66" y="404.75" font-size="5.1" text-anchor="middle" font-weight="bold" stroke="#000" stroke-width="0.12">4</text>
<line x1="184.50" y1="397.20" x2="184.50" y2="398.20" stroke="#222" stroke-width="0.5" stroke-linecap="butt"/>
<line x1="190.34" y1="397.20" x2="190.34" y2="399.20" stroke="#444" stroke-width="0.7" stroke-linecap="butt"/>
<text x="190.34" y="404.75" font-size="5.1" text-anchor="middle" font-weight="bold" stroke="#000" stroke-width="0.12">6</text>
<line x1="153.60" y1="397.20" x2="155.30" y2="397.20" stroke="#222" stroke-width="0.6" stroke-linecap="butt"/>
<line x1="154.30" y1="383.16" x2="155.30" y2="383.16" stroke="#222" stroke-width="0.5" stroke-linecap="butt"/>
<line x1="153.60" y1="369.12" x2="155.30" y2="369.12" stroke="#222" stroke-width="0.6" stroke-linecap="butt"/>
<text x="152.40" y="370.94" font-size="5.3" text-anchor="end" font-weight="bold" stroke="#000" stroke-width="0.12">1</text>
<line x1="154.30" y1="355.08" x2="155.30" y2="355.08" stroke="#222" stroke-width="0.5" stroke-linecap="butt"/>
<line x1="153.60" y1="341.04" x2="155.30" y2="341.04" stroke="#222" stroke-width="0.6" stroke-linecap="butt"/>
<text x="152.40" y="342.86" font-size="5.3" text-anchor="end" font-weight="bold" stroke="#000" stroke-width="0.12">2</text>
<line x1="154.30" y1="327.00" x2="155.30" y2="327.00" stroke="#222" stroke-width="0.5" stroke-linecap="butt"/>
<line x1="153.60" y1="312.96" x2="155.30" y2="312.96" stroke="#222" stroke-width="0.6" stroke-linecap="butt"/>
<text x="152.40" y="314.78" font-size="5.3" text-anchor="end" font-weight="bold" stroke="#000" stroke-width="0.12">3</text>
<line x1="154.30" y1="298.92" x2="155.30" y2="298.92" stroke="#222" stroke-width="0.5" stroke-linecap="butt"/>
<line x1="153.60" y1="284.88" x2="155.30" y2="284.88" stroke="#222" stroke-width="0.6" stroke-linecap="butt"/>
<text x="152.40" y="286.70" font-size="5.3" text-anchor="end" font-weight="bold" stroke="#000" stroke-width="0.12">4</text>
<text x="155.30" y="412.14" font-size="6.5" text-anchor="middle" font-weight="bold" stroke="#000" stroke-width="0.12">Fold change [log2]</text>
<text transform="translate(159.70 315.80) rotate(-90)" x="0" y="2.20" font-size="6.4" text-anchor="middle" font-weight="bold" stroke="#000" stroke-width="0.12">FDR q-value [-log10]</text>
<text x="173.50" y="304.61" font-size="3.8" fill="#222">IL1b</text>
<text x="182.40" y="313.91" font-size="3.8" fill="#222">CCL5</text>
<text x="172.20" y="343.71" font-size="3.8" fill="#222">CXCL1</text>
<text x="171.40" y="347.51" font-size="3.8" fill="#222">IL1a</text>
<text x="177.20" y="357.91" font-size="3.8" fill="#222">CXCL12</text>
<text x="146.20" y="357.91" font-size="3.8" fill="#222">tPA</text>
<text x="167.00" y="361.71" font-size="3.8" fill="#222">IL6</text>
<text x="167.40" y="366.11" font-size="3.8" fill="#222">CXCL10</text>
<text x="188.20" y="372.51" font-size="3.8" fill="#222">CCL4</text>
<text x="196.60" y="376.21" font-size="3.8" fill="#222">CCL3</text>
<text x="161.20" y="382.21" font-size="3.8" fill="#222">CXCL8</text>
<circle cx="169.30" cy="342.50" r="1.7" fill="#ffffff" stroke="#1a1a1a" stroke-width="0.7"/>
<circle cx="168.30" cy="346.00" r="1.7" fill="#f6c0c0" stroke="#1a1a1a" stroke-width="0.7"/>
<circle cx="174.00" cy="356.60" r="1.7" fill="#e85050" stroke="#1a1a1a" stroke-width="0.7"/>
<circle cx="145.80" cy="360.60" r="1.7" fill="#a8aeee" stroke="#1a1a1a" stroke-width="0.7"/>
<circle cx="163.50" cy="360.40" r="1.7" fill="#f6baba" stroke="#1a1a1a" stroke-width="0.7"/>
<circle cx="164.30" cy="364.80" r="1.7" fill="#f6c4c4" stroke="#1a1a1a" stroke-width="0.7"/>
<circle cx="185.10" cy="372.30" r="1.7" fill="#e43030" stroke="#1a1a1a" stroke-width="0.7"/>
<circle cx="193.50" cy="374.90" r="1.7" fill="#f01414" stroke="#1a1a1a" stroke-width="0.7"/>
<circle cx="158.30" cy="380.90" r="1.7" fill="#ffffff" stroke="#1a1a1a" stroke-width="0.7"/>
<circle cx="143.80" cy="388.80" r="1.7" fill="#b0b4ee" stroke="#1a1a1a" stroke-width="0.7"/>
<circle cx="155.90" cy="392.40" r="1.7" fill="#ffffff" stroke="#1a1a1a" stroke-width="0.7"/>
<circle cx="155.50" cy="395.80" r="1.7" fill="#ffffff" stroke="#1a1a1a" stroke-width="0.7"/>
<circle cx="170.10" cy="303.30" r="1.7" fill="#e66060" stroke="#1a1a1a" stroke-width="0.7"/>
<circle cx="179.40" cy="312.60" r="1.7" fill="#e43030" stroke="#1a1a1a" stroke-width="0.7"/>
<text x="242.40" y="271.04" font-size="6.5" text-anchor="middle">Normal keratinocytes</text>
<text x="243.60" y="278.57" font-size="6.6" text-anchor="middle" font-style="italic">ex vivo</text>
<line x1="243.60" y1="284.60" x2="243.60" y2="397.20" stroke="#3a3a3a" stroke-width="0.8" stroke-linecap="butt"/>
<line x1="208.26" y1="397.20" x2="278.94" y2="397.20" stroke="#6e6e6e" stroke-width="1.0" stroke-linecap="butt"/>
<line x1="208.56" y1="397.20" x2="208.56" y2="399.20" stroke="#444" stroke-width="0.7" stroke-linecap="butt"/>
<text x="208.56" y="404.75" font-size="5.1" text-anchor="middle" font-weight="bold" stroke="#000" stroke-width="0.12">-6</text>
<line x1="214.40" y1="397.20" x2="214.40" y2="398.20" stroke="#222" stroke-width="0.5" stroke-linecap="butt"/>
<line x1="220.24" y1="397.20" x2="220.24" y2="399.20" stroke="#444" stroke-width="0.7" stroke-linecap="butt"/>
<text x="220.24" y="404.75" font-size="5.1" text-anchor="middle" font-weight="bold" stroke="#000" stroke-width="0.12">-4</text>
<line x1="226.08" y1="397.20" x2="226.08" y2="398.20" stroke="#222" stroke-width="0.5" stroke-linecap="butt"/>
<line x1="231.92" y1="397.20" x2="231.92" y2="399.20" stroke="#444" stroke-width="0.7" stroke-linecap="butt"/>
<text x="231.92" y="404.75" font-size="5.1" text-anchor="middle" font-weight="bold" stroke="#000" stroke-width="0.12">-2</text>
<line x1="237.76" y1="397.20" x2="237.76" y2="398.20" stroke="#222" stroke-width="0.5" stroke-linecap="butt"/>
<line x1="243.60" y1="397.20" x2="243.60" y2="399.20" stroke="#444" stroke-width="0.7" stroke-linecap="butt"/>
<text x="243.60" y="404.75" font-size="5.1" text-anchor="middle" font-weight="bold" stroke="#000" stroke-width="0.12">0</text>
<line x1="249.44" y1="397.20" x2="249.44" y2="398.20" stroke="#222" stroke-width="0.5" stroke-linecap="butt"/>
<line x1="255.28" y1="397.20" x2="255.28" y2="399.20" stroke="#444" stroke-width="0.7" stroke-linecap="butt"/>
<text x="255.28" y="404.75" font-size="5.1" text-anchor="middle" font-weight="bold" stroke="#000" stroke-width="0.12">2</text>
<line x1="261.12" y1="397.20" x2="261.12" y2="398.20" stroke="#222" stroke-width="0.5" stroke-linecap="butt"/>
<line x1="266.96" y1="397.20" x2="266.96" y2="399.20" stroke="#444" stroke-width="0.7" stroke-linecap="butt"/>
<text x="266.96" y="404.75" font-size="5.1" text-anchor="middle" font-weight="bold" stroke="#000" stroke-width="0.12">4</text>
<line x1="272.80" y1="397.20" x2="272.80" y2="398.20" stroke="#222" stroke-width="0.5" stroke-linecap="butt"/>
<line x1="278.64" y1="397.20" x2="278.64" y2="399.20" stroke="#444" stroke-width="0.7" stroke-linecap="butt"/>
<text x="278.64" y="404.75" font-size="5.1" text-anchor="middle" font-weight="bold" stroke="#000" stroke-width="0.12">6</text>
<line x1="241.90" y1="397.20" x2="243.60" y2="397.20" stroke="#222" stroke-width="0.6" stroke-linecap="butt"/>
<line x1="242.60" y1="383.16" x2="243.60" y2="383.16" stroke="#222" stroke-width="0.5" stroke-linecap="butt"/>
<line x1="241.90" y1="369.12" x2="243.60" y2="369.12" stroke="#222" stroke-width="0.6" stroke-linecap="butt"/>
<text x="240.70" y="370.94" font-size="5.3" text-anchor="end" font-weight="bold" stroke="#000" stroke-width="0.12">1</text>
<line x1="242.60" y1="355.08" x2="243.60" y2="355.08" stroke="#222" stroke-width="0.5" stroke-linecap="butt"/>
<line x1="241.90" y1="341.04" x2="243.60" y2="341.04" stroke="#222" stroke-width="0.6" stroke-linecap="butt"/>
<text x="240.70" y="342.86" font-size="5.3" text-anchor="end" font-weight="bold" stroke="#000" stroke-width="0.12">2</text>
<line x1="242.60" y1="327.00" x2="243.60" y2="327.00" stroke="#222" stroke-width="0.5" stroke-linecap="butt"/>
<line x1="241.90" y1="312.96" x2="243.60" y2="312.96" stroke="#222" stroke-width="0.6" stroke-linecap="butt"/>
<text x="240.70" y="314.78" font-size="5.3" text-anchor="end" font-weight="bold" stroke="#000" stroke-width="0.12">3</text>
<line x1="242.60" y1="298.92" x2="243.60" y2="298.92" stroke="#222" stroke-width="0.5" stroke-linecap="butt"/>
<line x1="241.90" y1="284.88" x2="243.60" y2="284.88" stroke="#222" stroke-width="0.6" stroke-linecap="butt"/>
<text x="240.70" y="286.70" font-size="5.3" text-anchor="end" font-weight="bold" stroke="#000" stroke-width="0.12">4</text>
<text x="243.60" y="412.14" font-size="6.5" text-anchor="middle" font-weight="bold" stroke="#000" stroke-width="0.12">Fold change [log2]</text>
<text transform="translate(248.00 315.80) rotate(-90)" x="0" y="2.20" font-size="6.4" text-anchor="middle" font-weight="bold" stroke="#000" stroke-width="0.12">FDR q-value [-log10]</text>
<text x="260.20" y="358.51" font-size="3.8" fill="#222">CXCL5</text>
<text x="232.50" y="365.31" font-size="3.8" fill="#222">CCL7</text>
<text x="244.60" y="365.31" font-size="3.8" fill="#222">IL1a</text>
<text x="256.20" y="365.31" font-size="3.8" fill="#222">CCL5</text>
<text x="261.20" y="368.91" font-size="3.8" fill="#222">CXCL10</text>
<text x="250.40" y="371.81" font-size="3.8" fill="#222">GM-CSF</text>
<text x="245.20" y="374.61" font-size="3.8" fill="#222">CXCL8</text>
<circle cx="241.60" cy="367.60" r="1.7" fill="#ffffff" stroke="#1a1a1a" stroke-width="0.7"/>
<circle cx="248.30" cy="369.40" r="1.7" fill="#f6c0c0" stroke="#1a1a1a" stroke-width="0.7"/>
<circle cx="247.70" cy="367.40" r="1.7" fill="#f09090" stroke="#1a1a1a" stroke-width="0.7"/>
<circle cx="258.10" cy="367.60" r="1.7" fill="#e83030" stroke="#1a1a1a" stroke-width="0.7"/>
<circle cx="256.90" cy="357.20" r="1.7" fill="#ea6060" stroke="#1a1a1a" stroke-width="0.7"/>
<circle cx="245.50" cy="378.90" r="1.7" fill="#ffffff" stroke="#1a1a1a" stroke-width="0.7"/>
<circle cx="240.80" cy="380.70" r="1.7" fill="#ffffff" stroke="#1a1a1a" stroke-width="0.7"/>
<circle cx="253.90" cy="381.10" r="1.7" fill="#f4a8a8" stroke="#1a1a1a" stroke-width="0.7"/>
<circle cx="245.90" cy="387.30" r="1.7" fill="#ffffff" stroke="#1a1a1a" stroke-width="0.7"/>
<circle cx="242.70" cy="388.80" r="1.7" fill="#ffffff" stroke="#1a1a1a" stroke-width="0.7"/>
<circle cx="244.70" cy="390.40" r="1.7" fill="#ffffff" stroke="#1a1a1a" stroke-width="0.7"/>
<circle cx="240.60" cy="391.40" r="1.7" fill="#ffffff" stroke="#1a1a1a" stroke-width="0.7"/>
<circle cx="243.90" cy="395.40" r="1.7" fill="#ffffff" stroke="#1a1a1a" stroke-width="0.7"/>
</g>
</svg>
</body></html>
